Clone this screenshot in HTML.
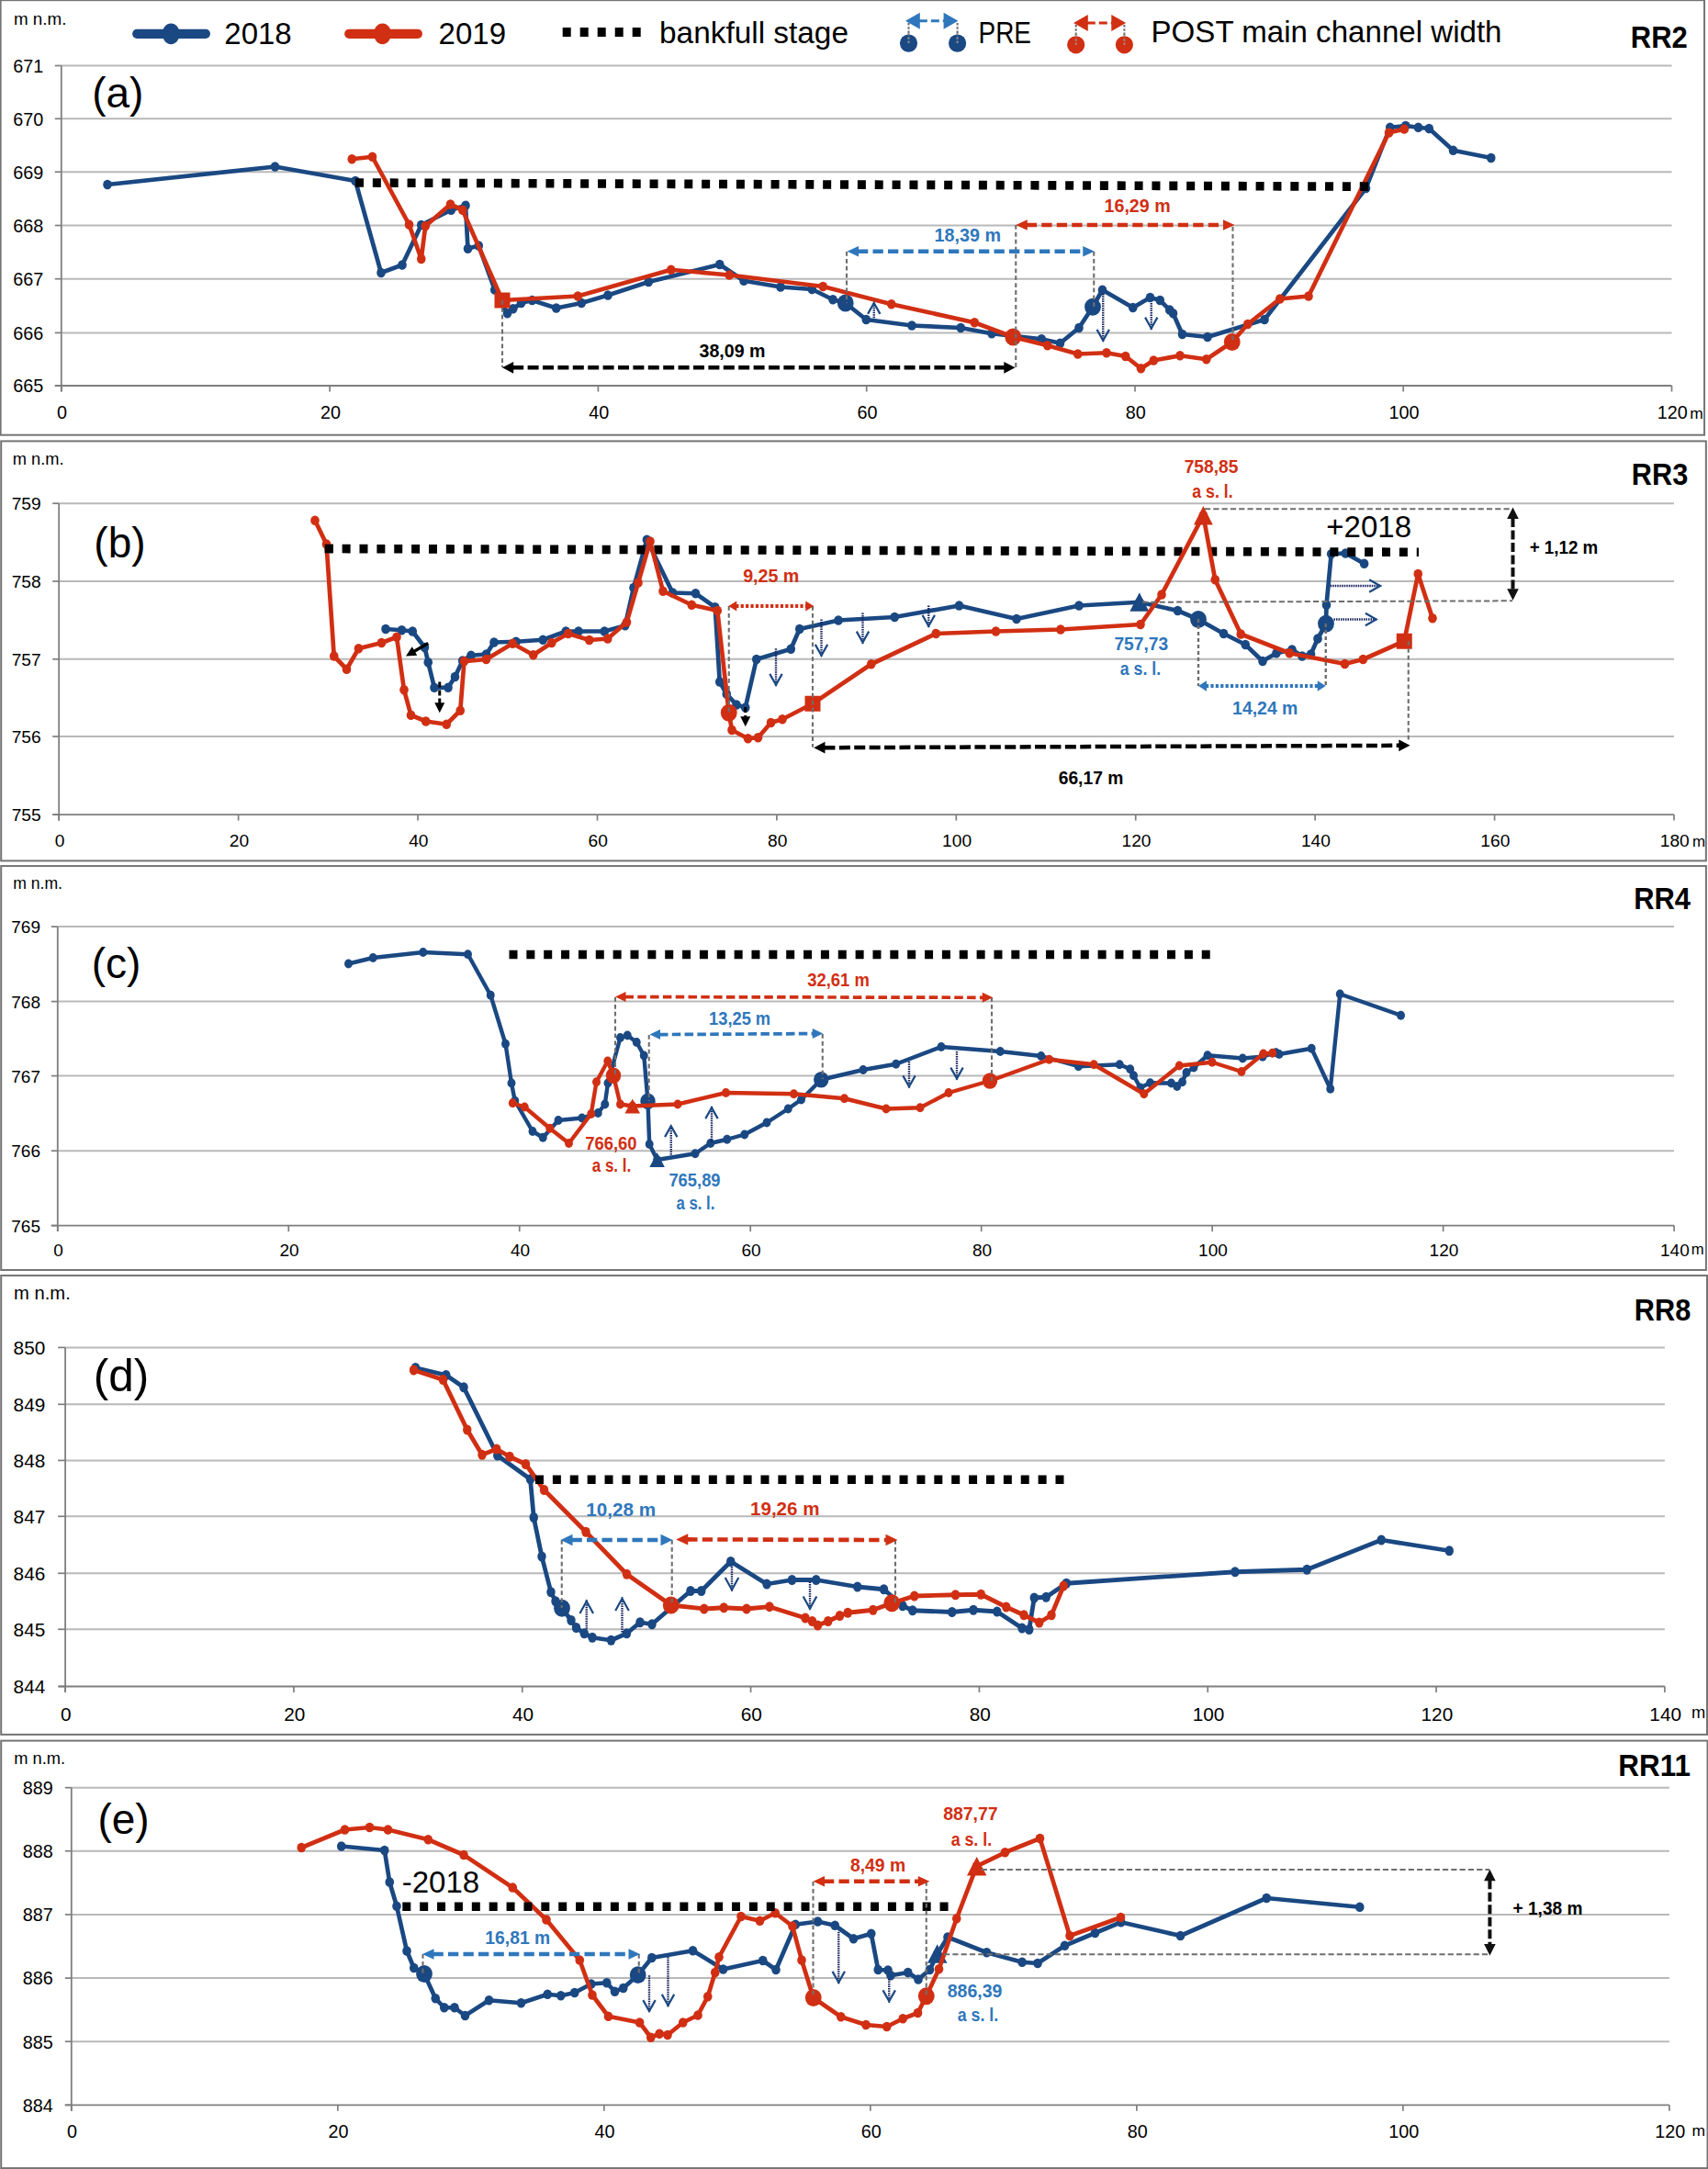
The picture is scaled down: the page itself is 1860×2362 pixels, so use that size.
<!DOCTYPE html>
<html><head><meta charset="utf-8"><title>Cross sections</title>
<style>html,body{margin:0;padding:0;background:#fff}svg{display:block}text{font-family:"Liberation Sans",sans-serif}</style></head><body>
<svg width="1860" height="2362" viewBox="0 0 1860 2362">
<rect width="1860" height="2362" fill="#fff"/>
<g id="panel-a">
<rect x="0.6" y="0.2" width="1855.45" height="473.5" fill="#fff" stroke="#747474" stroke-width="2"/>
<line x1="66.8" y1="71.5" x2="1820.5" y2="71.5" stroke="#b9b9b9" stroke-width="2"/>
<line x1="66.8" y1="129.3" x2="1820.5" y2="129.3" stroke="#b9b9b9" stroke-width="2"/>
<line x1="66.8" y1="187.2" x2="1820.5" y2="187.2" stroke="#b9b9b9" stroke-width="2"/>
<line x1="66.8" y1="245.5" x2="1820.5" y2="245.5" stroke="#b9b9b9" stroke-width="2"/>
<line x1="66.8" y1="303.7" x2="1820.5" y2="303.7" stroke="#b9b9b9" stroke-width="2"/>
<line x1="66.8" y1="362.4" x2="1820.5" y2="362.4" stroke="#b9b9b9" stroke-width="2"/>
<line x1="59.8" y1="71.5" x2="66.8" y2="71.5" stroke="#7e7e7e" stroke-width="1.7"/>
<text x="47.2" y="78.83" font-size="19.8" text-anchor="end" font-weight="normal" fill="#000">671</text>
<line x1="59.8" y1="129.3" x2="66.8" y2="129.3" stroke="#7e7e7e" stroke-width="1.7"/>
<text x="47.2" y="136.63" font-size="19.8" text-anchor="end" font-weight="normal" fill="#000">670</text>
<line x1="59.8" y1="187.2" x2="66.8" y2="187.2" stroke="#7e7e7e" stroke-width="1.7"/>
<text x="47.2" y="194.53" font-size="19.8" text-anchor="end" font-weight="normal" fill="#000">669</text>
<line x1="59.8" y1="245.5" x2="66.8" y2="245.5" stroke="#7e7e7e" stroke-width="1.7"/>
<text x="47.2" y="252.83" font-size="19.8" text-anchor="end" font-weight="normal" fill="#000">668</text>
<line x1="59.8" y1="303.7" x2="66.8" y2="303.7" stroke="#7e7e7e" stroke-width="1.7"/>
<text x="47.2" y="311.03" font-size="19.8" text-anchor="end" font-weight="normal" fill="#000">667</text>
<line x1="59.8" y1="362.4" x2="66.8" y2="362.4" stroke="#7e7e7e" stroke-width="1.7"/>
<text x="47.2" y="369.73" font-size="19.8" text-anchor="end" font-weight="normal" fill="#000">666</text>
<line x1="59.8" y1="420" x2="66.8" y2="420" stroke="#7e7e7e" stroke-width="1.7"/>
<text x="47.2" y="427.33" font-size="19.8" text-anchor="end" font-weight="normal" fill="#000">665</text>
<line x1="66.8" y1="71.5" x2="66.8" y2="426.5" stroke="#7e7e7e" stroke-width="1.8"/>
<line x1="59.8" y1="420" x2="1820.5" y2="420" stroke="#7e7e7e" stroke-width="1.8"/>
<line x1="66.8" y1="420" x2="66.8" y2="426.5" stroke="#7e7e7e" stroke-width="1.7"/>
<text x="67.6" y="456.33" font-size="19.8" text-anchor="middle" font-weight="normal" fill="#000">0</text>
<line x1="359.1" y1="420" x2="359.1" y2="426.5" stroke="#7e7e7e" stroke-width="1.7"/>
<text x="359.9" y="456.33" font-size="19.8" text-anchor="middle" font-weight="normal" fill="#000">20</text>
<line x1="651.4" y1="420" x2="651.4" y2="426.5" stroke="#7e7e7e" stroke-width="1.7"/>
<text x="652.2" y="456.33" font-size="19.8" text-anchor="middle" font-weight="normal" fill="#000">40</text>
<line x1="943.7" y1="420" x2="943.7" y2="426.5" stroke="#7e7e7e" stroke-width="1.7"/>
<text x="944.5" y="456.33" font-size="19.8" text-anchor="middle" font-weight="normal" fill="#000">60</text>
<line x1="1236" y1="420" x2="1236" y2="426.5" stroke="#7e7e7e" stroke-width="1.7"/>
<text x="1236.8" y="456.33" font-size="19.8" text-anchor="middle" font-weight="normal" fill="#000">80</text>
<line x1="1528.2" y1="420" x2="1528.2" y2="426.5" stroke="#7e7e7e" stroke-width="1.7"/>
<text x="1529" y="456.33" font-size="19.8" text-anchor="middle" font-weight="normal" fill="#000">100</text>
<line x1="1820.5" y1="420" x2="1820.5" y2="426.5" stroke="#7e7e7e" stroke-width="1.7"/>
<text x="1821.3" y="456.33" font-size="19.8" text-anchor="middle" font-weight="normal" fill="#000">120</text>
<text x="15" y="26.7" font-size="18.8" text-anchor="start" font-weight="normal" fill="#000">m n.m.</text>
<text x="1840.2" y="455.5" font-size="17.42" text-anchor="start" font-weight="normal" fill="#000">m</text>
<text x="1775.8" y="51.7" font-size="32.5" text-anchor="start" font-weight="bold" fill="#000" textLength="62" lengthAdjust="spacingAndGlyphs">RR2</text>
<text x="100.15" y="116.5" font-size="46" text-anchor="start" font-weight="normal" fill="#000">(a)</text>
<polyline fill="none" stroke="#1a4882" stroke-width="4.7" stroke-linejoin="round" stroke-linecap="round" points="117,201 299.5,181.5 387,197 415,297 438,288.5 458.75,245 491.25,228.75 507,223.75 509.5,270.75 521.25,267.5 538.75,315.5 552.5,341.25 558.75,336.25 567.5,330 579.5,327 605.75,335.5 633.25,330 662,321.5 706.25,307 783.75,288 810,305.75 850,312.5 884.25,315 907,326.25 920.75,330 943.25,348 993,354.5 1046.25,357 1080,363.25 1134.25,369.25 1154.5,373.75 1175,357 1190,334.25 1200.5,315.7 1233.75,335 1252.5,324 1263.25,327 1273.75,337.5 1277.5,341.25 1287.5,364 1315,367 1377,348 1487.5,205 1513.75,138.75 1530.75,137 1544.5,138.75 1556.25,140 1582.5,163.75 1623.75,172"/>
<ellipse cx="117" cy="201" rx="4.8" ry="5.3" fill="#1a4882"/>
<ellipse cx="299.5" cy="181.5" rx="4.8" ry="5.3" fill="#1a4882"/>
<ellipse cx="387" cy="197" rx="4.8" ry="5.3" fill="#1a4882"/>
<ellipse cx="415" cy="297" rx="4.8" ry="5.3" fill="#1a4882"/>
<ellipse cx="438" cy="288.5" rx="4.8" ry="5.3" fill="#1a4882"/>
<ellipse cx="458.75" cy="245" rx="4.8" ry="5.3" fill="#1a4882"/>
<ellipse cx="491.25" cy="228.75" rx="4.8" ry="5.3" fill="#1a4882"/>
<ellipse cx="507" cy="223.75" rx="4.8" ry="5.3" fill="#1a4882"/>
<ellipse cx="509.5" cy="270.75" rx="4.8" ry="5.3" fill="#1a4882"/>
<ellipse cx="521.25" cy="267.5" rx="4.8" ry="5.3" fill="#1a4882"/>
<ellipse cx="538.75" cy="315.5" rx="4.8" ry="5.3" fill="#1a4882"/>
<ellipse cx="552.5" cy="341.25" rx="4.8" ry="5.3" fill="#1a4882"/>
<ellipse cx="558.75" cy="336.25" rx="4.8" ry="5.3" fill="#1a4882"/>
<ellipse cx="567.5" cy="330" rx="4.8" ry="5.3" fill="#1a4882"/>
<ellipse cx="579.5" cy="327" rx="4.8" ry="5.3" fill="#1a4882"/>
<ellipse cx="605.75" cy="335.5" rx="4.8" ry="5.3" fill="#1a4882"/>
<ellipse cx="633.25" cy="330" rx="4.8" ry="5.3" fill="#1a4882"/>
<ellipse cx="662" cy="321.5" rx="4.8" ry="5.3" fill="#1a4882"/>
<ellipse cx="706.25" cy="307" rx="4.8" ry="5.3" fill="#1a4882"/>
<ellipse cx="783.75" cy="288" rx="4.8" ry="5.3" fill="#1a4882"/>
<ellipse cx="810" cy="305.75" rx="4.8" ry="5.3" fill="#1a4882"/>
<ellipse cx="850" cy="312.5" rx="4.8" ry="5.3" fill="#1a4882"/>
<ellipse cx="884.25" cy="315" rx="4.8" ry="5.3" fill="#1a4882"/>
<ellipse cx="907" cy="326.25" rx="4.8" ry="5.3" fill="#1a4882"/>
<ellipse cx="920.75" cy="330" rx="4.8" ry="5.3" fill="#1a4882"/>
<ellipse cx="943.25" cy="348" rx="4.8" ry="5.3" fill="#1a4882"/>
<ellipse cx="993" cy="354.5" rx="4.8" ry="5.3" fill="#1a4882"/>
<ellipse cx="1046.25" cy="357" rx="4.8" ry="5.3" fill="#1a4882"/>
<ellipse cx="1080" cy="363.25" rx="4.8" ry="5.3" fill="#1a4882"/>
<ellipse cx="1134.25" cy="369.25" rx="4.8" ry="5.3" fill="#1a4882"/>
<ellipse cx="1154.5" cy="373.75" rx="4.8" ry="5.3" fill="#1a4882"/>
<ellipse cx="1175" cy="357" rx="4.8" ry="5.3" fill="#1a4882"/>
<ellipse cx="1190" cy="334.25" rx="4.8" ry="5.3" fill="#1a4882"/>
<ellipse cx="1200.5" cy="315.7" rx="4.8" ry="5.3" fill="#1a4882"/>
<ellipse cx="1233.75" cy="335" rx="4.8" ry="5.3" fill="#1a4882"/>
<ellipse cx="1252.5" cy="324" rx="4.8" ry="5.3" fill="#1a4882"/>
<ellipse cx="1263.25" cy="327" rx="4.8" ry="5.3" fill="#1a4882"/>
<ellipse cx="1273.75" cy="337.5" rx="4.8" ry="5.3" fill="#1a4882"/>
<ellipse cx="1277.5" cy="341.25" rx="4.8" ry="5.3" fill="#1a4882"/>
<ellipse cx="1287.5" cy="364" rx="4.8" ry="5.3" fill="#1a4882"/>
<ellipse cx="1315" cy="367" rx="4.8" ry="5.3" fill="#1a4882"/>
<ellipse cx="1377" cy="348" rx="4.8" ry="5.3" fill="#1a4882"/>
<ellipse cx="1487.5" cy="205" rx="4.8" ry="5.3" fill="#1a4882"/>
<ellipse cx="1513.75" cy="138.75" rx="4.8" ry="5.3" fill="#1a4882"/>
<ellipse cx="1530.75" cy="137" rx="4.8" ry="5.3" fill="#1a4882"/>
<ellipse cx="1544.5" cy="138.75" rx="4.8" ry="5.3" fill="#1a4882"/>
<ellipse cx="1556.25" cy="140" rx="4.8" ry="5.3" fill="#1a4882"/>
<ellipse cx="1582.5" cy="163.75" rx="4.8" ry="5.3" fill="#1a4882"/>
<ellipse cx="1623.75" cy="172" rx="4.8" ry="5.3" fill="#1a4882"/>
<ellipse cx="920.75" cy="330" rx="8.9" ry="9.4" fill="#1a4882"/>
<ellipse cx="1190" cy="334.25" rx="8.9" ry="9.4" fill="#1a4882"/>
<line x1="387" y1="199" x2="1490.3" y2="203.2" stroke="#000" stroke-width="9.6" stroke-dasharray="9 9.858"/>
<polyline fill="none" stroke="#d12f13" stroke-width="4.7" stroke-linejoin="round" stroke-linecap="round" points="383.25,173.25 405.5,170.75 445.5,244.5 458.75,282 463.25,246.25 490.5,222.5 503.75,228.75 547,327 629.25,322.5 730.75,293.75 794.25,299.5 896.25,312 970.75,331.25 1061.25,351.25 1103.25,367 1140.75,376.25 1173.75,385.5 1205,384.25 1225.75,388 1242.5,401.25 1256.25,392.5 1285,387.25 1313.75,391.25 1341.75,372.5 1358.75,353 1393.75,325.5 1425,322.5 1512.5,144.5 1529.25,140.5"/>
<ellipse cx="383.25" cy="173.25" rx="4.8" ry="5.3" fill="#d12f13"/>
<ellipse cx="405.5" cy="170.75" rx="4.8" ry="5.3" fill="#d12f13"/>
<ellipse cx="445.5" cy="244.5" rx="4.8" ry="5.3" fill="#d12f13"/>
<ellipse cx="458.75" cy="282" rx="4.8" ry="5.3" fill="#d12f13"/>
<ellipse cx="463.25" cy="246.25" rx="4.8" ry="5.3" fill="#d12f13"/>
<ellipse cx="490.5" cy="222.5" rx="4.8" ry="5.3" fill="#d12f13"/>
<ellipse cx="503.75" cy="228.75" rx="4.8" ry="5.3" fill="#d12f13"/>
<ellipse cx="547" cy="327" rx="4.8" ry="5.3" fill="#d12f13"/>
<ellipse cx="629.25" cy="322.5" rx="4.8" ry="5.3" fill="#d12f13"/>
<ellipse cx="730.75" cy="293.75" rx="4.8" ry="5.3" fill="#d12f13"/>
<ellipse cx="794.25" cy="299.5" rx="4.8" ry="5.3" fill="#d12f13"/>
<ellipse cx="896.25" cy="312" rx="4.8" ry="5.3" fill="#d12f13"/>
<ellipse cx="970.75" cy="331.25" rx="4.8" ry="5.3" fill="#d12f13"/>
<ellipse cx="1061.25" cy="351.25" rx="4.8" ry="5.3" fill="#d12f13"/>
<ellipse cx="1103.25" cy="367" rx="4.8" ry="5.3" fill="#d12f13"/>
<ellipse cx="1140.75" cy="376.25" rx="4.8" ry="5.3" fill="#d12f13"/>
<ellipse cx="1173.75" cy="385.5" rx="4.8" ry="5.3" fill="#d12f13"/>
<ellipse cx="1205" cy="384.25" rx="4.8" ry="5.3" fill="#d12f13"/>
<ellipse cx="1225.75" cy="388" rx="4.8" ry="5.3" fill="#d12f13"/>
<ellipse cx="1242.5" cy="401.25" rx="4.8" ry="5.3" fill="#d12f13"/>
<ellipse cx="1256.25" cy="392.5" rx="4.8" ry="5.3" fill="#d12f13"/>
<ellipse cx="1285" cy="387.25" rx="4.8" ry="5.3" fill="#d12f13"/>
<ellipse cx="1313.75" cy="391.25" rx="4.8" ry="5.3" fill="#d12f13"/>
<ellipse cx="1341.75" cy="372.5" rx="4.8" ry="5.3" fill="#d12f13"/>
<ellipse cx="1358.75" cy="353" rx="4.8" ry="5.3" fill="#d12f13"/>
<ellipse cx="1393.75" cy="325.5" rx="4.8" ry="5.3" fill="#d12f13"/>
<ellipse cx="1425" cy="322.5" rx="4.8" ry="5.3" fill="#d12f13"/>
<ellipse cx="1512.5" cy="144.5" rx="4.8" ry="5.3" fill="#d12f13"/>
<ellipse cx="1529.25" cy="140.5" rx="4.8" ry="5.3" fill="#d12f13"/>
<ellipse cx="1103.25" cy="367" rx="8.9" ry="9.4" fill="#d12f13"/>
<ellipse cx="1341.75" cy="372.5" rx="8.9" ry="9.4" fill="#d12f13"/>
<rect x="538.5" y="318.5" width="17" height="17" fill="#d12f13"/>
<rect x="1481.2" y="198.35" width="9.1" height="9.6" fill="#000"/>
<line x1="149.2" y1="36.8" x2="223.9" y2="36.8" stroke="#1a4882" stroke-width="10.2" stroke-linecap="round"/><ellipse cx="186.2" cy="36.8" rx="9.6" ry="11.4" fill="#1a4882"/>
<text x="244.3" y="47.7" font-size="33" text-anchor="start" font-weight="normal" fill="#000">2018</text>
<line x1="380.2" y1="36.8" x2="454.9" y2="36.8" stroke="#d12f13" stroke-width="10.2" stroke-linecap="round"/><ellipse cx="416.5" cy="36.8" rx="9.6" ry="11.4" fill="#d12f13"/>
<text x="477.6" y="47.7" font-size="33" text-anchor="start" font-weight="normal" fill="#000">2019</text>
<line x1="612.7" y1="35" x2="698" y2="35" stroke="#000" stroke-width="10" stroke-dasharray="9 10"/>
<text x="718" y="46.7" font-size="32.9" text-anchor="start" font-weight="normal" fill="#000" textLength="206" lengthAdjust="spacingAndGlyphs">bankfull stage</text>
<line x1="989.5" y1="25" x2="989.5" y2="38" stroke="#6e6e6e" stroke-width="2.1" stroke-dasharray="2.6 1.6"/>
<line x1="1042.6" y1="25" x2="1042.6" y2="38" stroke="#6e6e6e" stroke-width="2.1" stroke-dasharray="2.6 1.6"/>
<line x1="1000.8" y1="22.8" x2="1028.6" y2="22.8" stroke="#2f77bc" stroke-width="3" stroke-dasharray="9 4"/>
<path d="M986,22.8 l15.8,-9 v18Z M1043.4,22.8 l-15.8,-9 v18Z" fill="#2f77bc"/>
<ellipse cx="989.5" cy="47.1" rx="9.6" ry="9.6" fill="#1a4882"/>
<ellipse cx="1042.6" cy="47.1" rx="9.6" ry="9.6" fill="#1a4882"/>
<path d="M989.5,36v12M1042.6,36v12" stroke="#8d8d8d" stroke-width="2" stroke-dasharray="2.6 1.6" fill="none"/>
<text x="1065.5" y="47" font-size="32.9" text-anchor="start" font-weight="normal" fill="#000" textLength="57.5" lengthAdjust="spacingAndGlyphs">PRE</text>
<line x1="1171.7" y1="27" x2="1171.7" y2="40" stroke="#6e6e6e" stroke-width="2.1" stroke-dasharray="2.6 1.6"/>
<line x1="1224.4" y1="27" x2="1224.4" y2="40" stroke="#6e6e6e" stroke-width="2.1" stroke-dasharray="2.6 1.6"/>
<line x1="1183.8" y1="25.1" x2="1211.3" y2="25.1" stroke="#d12f13" stroke-width="3" stroke-dasharray="9 4"/>
<path d="M1169,25.1 l15.8,-9 v18Z M1226.1,25.1 l-15.8,-9 v18Z" fill="#d12f13"/>
<ellipse cx="1171.7" cy="48.8" rx="9.6" ry="9.6" fill="#d12f13"/>
<ellipse cx="1224.4" cy="48.8" rx="9.6" ry="9.6" fill="#d12f13"/>
<path d="M1171.7,38v12M1224.4,38v12" stroke="#9a8a86" stroke-width="2" stroke-dasharray="2.6 1.6" fill="none"/>
<text x="1253.5" y="46.3" font-size="32.9" text-anchor="start" font-weight="normal" fill="#000" textLength="382" lengthAdjust="spacingAndGlyphs">POST main channel width</text>
<line x1="547" y1="327" x2="547" y2="400" stroke="#6e6e6e" stroke-width="2.1" stroke-dasharray="4.8 3.1"/>
<line x1="922" y1="274" x2="922" y2="330" stroke="#6e6e6e" stroke-width="2.1" stroke-dasharray="4.8 3.1"/>
<line x1="1106.25" y1="245" x2="1106.25" y2="400" stroke="#6e6e6e" stroke-width="2.1" stroke-dasharray="4.8 3.1"/>
<line x1="1191.25" y1="274" x2="1191.25" y2="334" stroke="#6e6e6e" stroke-width="2.1" stroke-dasharray="4.8 3.1"/>
<line x1="1342.5" y1="247" x2="1342.5" y2="372" stroke="#6e6e6e" stroke-width="2.1" stroke-dasharray="4.8 3.1"/>
<line x1="558.2" y1="400.3" x2="1094.3" y2="400.3" stroke="#000" stroke-width="4.5" stroke-dasharray="12 4.4"/>
<path d="M547,400.3 l12.2,-6.4 v12.8Z M1105.5,400.3 l-12.2,-6.4 v12.8Z" fill="#000"/>
<text x="797.5" y="389.05" font-size="20" text-anchor="middle" font-weight="bold" fill="#000" textLength="71.85" lengthAdjust="spacingAndGlyphs">38,09 m</text>
<line x1="934" y1="273.75" x2="1180.25" y2="273.75" stroke="#2f77bc" stroke-width="4.4" stroke-dasharray="11.3 5.2"/>
<path d="M922.5,273.75 l12.5,-5.8 v11.6Z M1191.75,273.75 l-12.5,-5.8 v11.6Z" fill="#2f77bc"/>
<text x="1053.75" y="263.3" font-size="20" text-anchor="middle" font-weight="bold" fill="#2f77bc" textLength="72.36" lengthAdjust="spacingAndGlyphs">18,39 m</text>
<line x1="1117.75" y1="245" x2="1333" y2="245" stroke="#d12f13" stroke-width="4.4" stroke-dasharray="11.3 5.2"/>
<path d="M1106.25,245 l12.5,-5.8 v11.6Z M1344.5,245 l-12.5,-5.8 v11.6Z" fill="#d12f13"/>
<text x="1238.6" y="231.05" font-size="20" text-anchor="middle" font-weight="bold" fill="#d12f13" textLength="72.16" lengthAdjust="spacingAndGlyphs">16,29 m</text>
<line x1="951.75" y1="346.25" x2="951.75" y2="328.75" stroke="#16235e" stroke-width="2.4" stroke-dasharray="1.5 1.0"/>
<polyline fill="none" stroke="#1a4882" stroke-width="2.2" stroke-linejoin="miter" points="958.45,341.85 951.75,330.05 945.05,341.85"/>
<line x1="1201.25" y1="320" x2="1201.25" y2="372" stroke="#16235e" stroke-width="2.4" stroke-dasharray="1.5 1.0"/>
<polyline fill="none" stroke="#1a4882" stroke-width="2.2" stroke-linejoin="miter" points="1194.55,358.9 1201.25,370.7 1207.95,358.9"/>
<line x1="1253.75" y1="330" x2="1253.75" y2="358.75" stroke="#16235e" stroke-width="2.4" stroke-dasharray="1.5 1.0"/>
<polyline fill="none" stroke="#1a4882" stroke-width="2.2" stroke-linejoin="miter" points="1247.05,345.65 1253.75,357.45 1260.45,345.65"/>
</g>
<g id="panel-b">
<rect x="1.2" y="480.4" width="1856.65" height="457" fill="#fff" stroke="#747474" stroke-width="2"/>
<line x1="64.2" y1="548.2" x2="1823" y2="548.2" stroke="#b9b9b9" stroke-width="2"/>
<line x1="64.2" y1="633" x2="1823" y2="633" stroke="#b9b9b9" stroke-width="2"/>
<line x1="64.2" y1="717.8" x2="1823" y2="717.8" stroke="#b9b9b9" stroke-width="2"/>
<line x1="64.2" y1="802" x2="1823" y2="802" stroke="#b9b9b9" stroke-width="2"/>
<line x1="57.2" y1="548.2" x2="64.2" y2="548.2" stroke="#7e7e7e" stroke-width="1.7"/>
<text x="44.7" y="555.3" font-size="19.2" text-anchor="end" font-weight="normal" fill="#000">759</text>
<line x1="57.2" y1="633" x2="64.2" y2="633" stroke="#7e7e7e" stroke-width="1.7"/>
<text x="44.7" y="640.1" font-size="19.2" text-anchor="end" font-weight="normal" fill="#000">758</text>
<line x1="57.2" y1="717.8" x2="64.2" y2="717.8" stroke="#7e7e7e" stroke-width="1.7"/>
<text x="44.7" y="724.9" font-size="19.2" text-anchor="end" font-weight="normal" fill="#000">757</text>
<line x1="57.2" y1="802" x2="64.2" y2="802" stroke="#7e7e7e" stroke-width="1.7"/>
<text x="44.7" y="809.1" font-size="19.2" text-anchor="end" font-weight="normal" fill="#000">756</text>
<line x1="57.2" y1="887.1" x2="64.2" y2="887.1" stroke="#7e7e7e" stroke-width="1.7"/>
<text x="44.7" y="894.2" font-size="19.2" text-anchor="end" font-weight="normal" fill="#000">755</text>
<line x1="64.2" y1="548.2" x2="64.2" y2="893.6" stroke="#7e7e7e" stroke-width="1.8"/>
<line x1="57.2" y1="887.1" x2="1823" y2="887.1" stroke="#7e7e7e" stroke-width="1.8"/>
<line x1="64.2" y1="887.1" x2="64.2" y2="893.6" stroke="#7e7e7e" stroke-width="1.7"/>
<text x="65" y="921.82" font-size="19.2" text-anchor="middle" font-weight="normal" fill="#000">0</text>
<line x1="259.62" y1="887.1" x2="259.62" y2="893.6" stroke="#7e7e7e" stroke-width="1.7"/>
<text x="260.42" y="921.82" font-size="19.2" text-anchor="middle" font-weight="normal" fill="#000">20</text>
<line x1="455.04" y1="887.1" x2="455.04" y2="893.6" stroke="#7e7e7e" stroke-width="1.7"/>
<text x="455.84" y="921.82" font-size="19.2" text-anchor="middle" font-weight="normal" fill="#000">40</text>
<line x1="650.47" y1="887.1" x2="650.47" y2="893.6" stroke="#7e7e7e" stroke-width="1.7"/>
<text x="651.27" y="921.82" font-size="19.2" text-anchor="middle" font-weight="normal" fill="#000">60</text>
<line x1="845.89" y1="887.1" x2="845.89" y2="893.6" stroke="#7e7e7e" stroke-width="1.7"/>
<text x="846.69" y="921.82" font-size="19.2" text-anchor="middle" font-weight="normal" fill="#000">80</text>
<line x1="1041.31" y1="887.1" x2="1041.31" y2="893.6" stroke="#7e7e7e" stroke-width="1.7"/>
<text x="1042.11" y="921.82" font-size="19.2" text-anchor="middle" font-weight="normal" fill="#000">100</text>
<line x1="1236.73" y1="887.1" x2="1236.73" y2="893.6" stroke="#7e7e7e" stroke-width="1.7"/>
<text x="1237.53" y="921.82" font-size="19.2" text-anchor="middle" font-weight="normal" fill="#000">120</text>
<line x1="1432.15" y1="887.1" x2="1432.15" y2="893.6" stroke="#7e7e7e" stroke-width="1.7"/>
<text x="1432.95" y="921.82" font-size="19.2" text-anchor="middle" font-weight="normal" fill="#000">140</text>
<line x1="1627.58" y1="887.1" x2="1627.58" y2="893.6" stroke="#7e7e7e" stroke-width="1.7"/>
<text x="1628.38" y="921.82" font-size="19.2" text-anchor="middle" font-weight="normal" fill="#000">160</text>
<line x1="1823" y1="887.1" x2="1823" y2="893.6" stroke="#7e7e7e" stroke-width="1.7"/>
<text x="1823.8" y="921.82" font-size="19.2" text-anchor="middle" font-weight="normal" fill="#000">180</text>
<text x="13.8" y="505.5" font-size="18.3" text-anchor="start" font-weight="normal" fill="#000">m n.m.</text>
<text x="1842.9" y="922.2" font-size="16.9" text-anchor="start" font-weight="normal" fill="#000">m</text>
<text x="1776.8" y="527.8" font-size="32.5" text-anchor="start" font-weight="bold" fill="#000" textLength="61.5" lengthAdjust="spacingAndGlyphs">RR3</text>
<text x="102.35" y="607" font-size="46" text-anchor="start" font-weight="normal" fill="#000">(b)</text>
<polyline fill="none" stroke="#1a4882" stroke-width="4.7" stroke-linejoin="round" stroke-linecap="round" points="420,685 437.5,686.25 449.25,687.5 462.5,705 466.25,721.25 473,748.75 488,748.75 495.5,737 503.75,719.5 513,713.75 529.5,712.5 538,699.5 562,698.75 591.25,696.75 616.25,687.5 630,687.5 658.25,687.5 680.75,681.25 690,640 704.4,587.7 732.5,645.5 757.5,646.25 778.75,661.25 783.75,742.5 791.25,755.75 802,767.5 811.75,770.5 823.75,718 861.25,706.75 870.75,685 913,675.5 974.25,672 1044.5,659.5 1107,674 1175,659.5 1240.75,655.75 1282.5,665 1305,674.5 1332.5,690 1356.25,702 1375,720 1390,711.25 1407,707.5 1418,714.5 1427.5,712.5 1435,695.5 1444,679.25 1444.5,658.75 1449.7,603.25 1465.3,602.5 1485.6,613.75"/>
<ellipse cx="420" cy="685" rx="4.8" ry="5.3" fill="#1a4882"/>
<ellipse cx="437.5" cy="686.25" rx="4.8" ry="5.3" fill="#1a4882"/>
<ellipse cx="449.25" cy="687.5" rx="4.8" ry="5.3" fill="#1a4882"/>
<ellipse cx="462.5" cy="705" rx="4.8" ry="5.3" fill="#1a4882"/>
<ellipse cx="466.25" cy="721.25" rx="4.8" ry="5.3" fill="#1a4882"/>
<ellipse cx="473" cy="748.75" rx="4.8" ry="5.3" fill="#1a4882"/>
<ellipse cx="488" cy="748.75" rx="4.8" ry="5.3" fill="#1a4882"/>
<ellipse cx="495.5" cy="737" rx="4.8" ry="5.3" fill="#1a4882"/>
<ellipse cx="503.75" cy="719.5" rx="4.8" ry="5.3" fill="#1a4882"/>
<ellipse cx="513" cy="713.75" rx="4.8" ry="5.3" fill="#1a4882"/>
<ellipse cx="529.5" cy="712.5" rx="4.8" ry="5.3" fill="#1a4882"/>
<ellipse cx="538" cy="699.5" rx="4.8" ry="5.3" fill="#1a4882"/>
<ellipse cx="562" cy="698.75" rx="4.8" ry="5.3" fill="#1a4882"/>
<ellipse cx="591.25" cy="696.75" rx="4.8" ry="5.3" fill="#1a4882"/>
<ellipse cx="616.25" cy="687.5" rx="4.8" ry="5.3" fill="#1a4882"/>
<ellipse cx="630" cy="687.5" rx="4.8" ry="5.3" fill="#1a4882"/>
<ellipse cx="658.25" cy="687.5" rx="4.8" ry="5.3" fill="#1a4882"/>
<ellipse cx="680.75" cy="681.25" rx="4.8" ry="5.3" fill="#1a4882"/>
<ellipse cx="690" cy="640" rx="4.8" ry="5.3" fill="#1a4882"/>
<ellipse cx="704.4" cy="587.7" rx="4.8" ry="5.3" fill="#1a4882"/>
<ellipse cx="732.5" cy="645.5" rx="4.8" ry="5.3" fill="#1a4882"/>
<ellipse cx="757.5" cy="646.25" rx="4.8" ry="5.3" fill="#1a4882"/>
<ellipse cx="778.75" cy="661.25" rx="4.8" ry="5.3" fill="#1a4882"/>
<ellipse cx="783.75" cy="742.5" rx="4.8" ry="5.3" fill="#1a4882"/>
<ellipse cx="791.25" cy="755.75" rx="4.8" ry="5.3" fill="#1a4882"/>
<ellipse cx="802" cy="767.5" rx="4.8" ry="5.3" fill="#1a4882"/>
<ellipse cx="811.75" cy="770.5" rx="4.8" ry="5.3" fill="#1a4882"/>
<ellipse cx="823.75" cy="718" rx="4.8" ry="5.3" fill="#1a4882"/>
<ellipse cx="861.25" cy="706.75" rx="4.8" ry="5.3" fill="#1a4882"/>
<ellipse cx="870.75" cy="685" rx="4.8" ry="5.3" fill="#1a4882"/>
<ellipse cx="913" cy="675.5" rx="4.8" ry="5.3" fill="#1a4882"/>
<ellipse cx="974.25" cy="672" rx="4.8" ry="5.3" fill="#1a4882"/>
<ellipse cx="1044.5" cy="659.5" rx="4.8" ry="5.3" fill="#1a4882"/>
<ellipse cx="1107" cy="674" rx="4.8" ry="5.3" fill="#1a4882"/>
<ellipse cx="1175" cy="659.5" rx="4.8" ry="5.3" fill="#1a4882"/>
<ellipse cx="1240.75" cy="655.75" rx="4.8" ry="5.3" fill="#1a4882"/>
<ellipse cx="1282.5" cy="665" rx="4.8" ry="5.3" fill="#1a4882"/>
<ellipse cx="1305" cy="674.5" rx="4.8" ry="5.3" fill="#1a4882"/>
<ellipse cx="1332.5" cy="690" rx="4.8" ry="5.3" fill="#1a4882"/>
<ellipse cx="1356.25" cy="702" rx="4.8" ry="5.3" fill="#1a4882"/>
<ellipse cx="1375" cy="720" rx="4.8" ry="5.3" fill="#1a4882"/>
<ellipse cx="1390" cy="711.25" rx="4.8" ry="5.3" fill="#1a4882"/>
<ellipse cx="1407" cy="707.5" rx="4.8" ry="5.3" fill="#1a4882"/>
<ellipse cx="1418" cy="714.5" rx="4.8" ry="5.3" fill="#1a4882"/>
<ellipse cx="1427.5" cy="712.5" rx="4.8" ry="5.3" fill="#1a4882"/>
<ellipse cx="1435" cy="695.5" rx="4.8" ry="5.3" fill="#1a4882"/>
<ellipse cx="1444" cy="679.25" rx="4.8" ry="5.3" fill="#1a4882"/>
<ellipse cx="1444.5" cy="658.75" rx="4.8" ry="5.3" fill="#1a4882"/>
<ellipse cx="1449.7" cy="603.25" rx="4.8" ry="5.3" fill="#1a4882"/>
<ellipse cx="1465.3" cy="602.5" rx="4.8" ry="5.3" fill="#1a4882"/>
<ellipse cx="1485.6" cy="613.75" rx="4.8" ry="5.3" fill="#1a4882"/>
<ellipse cx="1305" cy="674.5" rx="8.9" ry="9.4" fill="#1a4882"/>
<ellipse cx="1444" cy="679.25" rx="8.9" ry="9.4" fill="#1a4882"/>
<path d="M1240.8,645.3 L1251.2,665.7 L1230.4,665.7Z" fill="#1a4882"/>
<line x1="353.75" y1="597.5" x2="1545" y2="601.3" stroke="#000" stroke-width="9.6" stroke-dasharray="9 9.873"/>
<polyline fill="none" stroke="#d12f13" stroke-width="4.7" stroke-linejoin="round" stroke-linecap="round" points="343,566.75 355.5,592.5 363.75,714.5 377.5,728.75 390.5,706.25 415.5,700 432,693.75 440,751.25 447.5,778.75 463.75,785.5 486.25,788.75 501.25,773.75 505.5,720 529.5,718 558.25,700.75 580.75,713.25 600.75,700 618.75,690 641.75,697 661.75,695.5 682.5,677.5 695,634.5 708,589.5 722,643.75 753.25,658.75 781.25,665 793.75,776.25 797,795 814.5,804.25 825.5,803.25 839.5,787 852,783.25 885,766.25 948.75,723.25 1019.25,690 1084.5,687.5 1155,685.5 1242,680 1265,647.5 1310.4,561.3 1323.25,631.25 1351.25,690.5 1404.25,711.25 1464.5,723 1484.4,718 1529.25,698.25 1544.25,625 1560,673.25"/>
<ellipse cx="343" cy="566.75" rx="4.8" ry="5.3" fill="#d12f13"/>
<ellipse cx="355.5" cy="592.5" rx="4.8" ry="5.3" fill="#d12f13"/>
<ellipse cx="363.75" cy="714.5" rx="4.8" ry="5.3" fill="#d12f13"/>
<ellipse cx="377.5" cy="728.75" rx="4.8" ry="5.3" fill="#d12f13"/>
<ellipse cx="390.5" cy="706.25" rx="4.8" ry="5.3" fill="#d12f13"/>
<ellipse cx="415.5" cy="700" rx="4.8" ry="5.3" fill="#d12f13"/>
<ellipse cx="432" cy="693.75" rx="4.8" ry="5.3" fill="#d12f13"/>
<ellipse cx="440" cy="751.25" rx="4.8" ry="5.3" fill="#d12f13"/>
<ellipse cx="447.5" cy="778.75" rx="4.8" ry="5.3" fill="#d12f13"/>
<ellipse cx="463.75" cy="785.5" rx="4.8" ry="5.3" fill="#d12f13"/>
<ellipse cx="486.25" cy="788.75" rx="4.8" ry="5.3" fill="#d12f13"/>
<ellipse cx="501.25" cy="773.75" rx="4.8" ry="5.3" fill="#d12f13"/>
<ellipse cx="505.5" cy="720" rx="4.8" ry="5.3" fill="#d12f13"/>
<ellipse cx="529.5" cy="718" rx="4.8" ry="5.3" fill="#d12f13"/>
<ellipse cx="558.25" cy="700.75" rx="4.8" ry="5.3" fill="#d12f13"/>
<ellipse cx="580.75" cy="713.25" rx="4.8" ry="5.3" fill="#d12f13"/>
<ellipse cx="600.75" cy="700" rx="4.8" ry="5.3" fill="#d12f13"/>
<ellipse cx="618.75" cy="690" rx="4.8" ry="5.3" fill="#d12f13"/>
<ellipse cx="641.75" cy="697" rx="4.8" ry="5.3" fill="#d12f13"/>
<ellipse cx="661.75" cy="695.5" rx="4.8" ry="5.3" fill="#d12f13"/>
<ellipse cx="682.5" cy="677.5" rx="4.8" ry="5.3" fill="#d12f13"/>
<ellipse cx="695" cy="634.5" rx="4.8" ry="5.3" fill="#d12f13"/>
<ellipse cx="708" cy="589.5" rx="4.8" ry="5.3" fill="#d12f13"/>
<ellipse cx="722" cy="643.75" rx="4.8" ry="5.3" fill="#d12f13"/>
<ellipse cx="753.25" cy="658.75" rx="4.8" ry="5.3" fill="#d12f13"/>
<ellipse cx="781.25" cy="665" rx="4.8" ry="5.3" fill="#d12f13"/>
<ellipse cx="793.75" cy="776.25" rx="4.8" ry="5.3" fill="#d12f13"/>
<ellipse cx="797" cy="795" rx="4.8" ry="5.3" fill="#d12f13"/>
<ellipse cx="814.5" cy="804.25" rx="4.8" ry="5.3" fill="#d12f13"/>
<ellipse cx="825.5" cy="803.25" rx="4.8" ry="5.3" fill="#d12f13"/>
<ellipse cx="839.5" cy="787" rx="4.8" ry="5.3" fill="#d12f13"/>
<ellipse cx="852" cy="783.25" rx="4.8" ry="5.3" fill="#d12f13"/>
<ellipse cx="885" cy="766.25" rx="4.8" ry="5.3" fill="#d12f13"/>
<ellipse cx="948.75" cy="723.25" rx="4.8" ry="5.3" fill="#d12f13"/>
<ellipse cx="1019.25" cy="690" rx="4.8" ry="5.3" fill="#d12f13"/>
<ellipse cx="1084.5" cy="687.5" rx="4.8" ry="5.3" fill="#d12f13"/>
<ellipse cx="1155" cy="685.5" rx="4.8" ry="5.3" fill="#d12f13"/>
<ellipse cx="1242" cy="680" rx="4.8" ry="5.3" fill="#d12f13"/>
<ellipse cx="1265" cy="647.5" rx="4.8" ry="5.3" fill="#d12f13"/>
<ellipse cx="1310.4" cy="561.3" rx="4.8" ry="5.3" fill="#d12f13"/>
<ellipse cx="1323.25" cy="631.25" rx="4.8" ry="5.3" fill="#d12f13"/>
<ellipse cx="1351.25" cy="690.5" rx="4.8" ry="5.3" fill="#d12f13"/>
<ellipse cx="1404.25" cy="711.25" rx="4.8" ry="5.3" fill="#d12f13"/>
<ellipse cx="1464.5" cy="723" rx="4.8" ry="5.3" fill="#d12f13"/>
<ellipse cx="1484.4" cy="718" rx="4.8" ry="5.3" fill="#d12f13"/>
<ellipse cx="1529.25" cy="698.25" rx="4.8" ry="5.3" fill="#d12f13"/>
<ellipse cx="1544.25" cy="625" rx="4.8" ry="5.3" fill="#d12f13"/>
<ellipse cx="1560" cy="673.25" rx="4.8" ry="5.3" fill="#d12f13"/>
<ellipse cx="793.75" cy="776.25" rx="8.9" ry="9.4" fill="#d12f13"/>
<path d="M1310.4,551.1 L1320.8,571.5 L1300,571.5Z" fill="#d12f13"/>
<rect x="876.5" y="757.75" width="17" height="17" fill="#d12f13"/>
<rect x="1520.75" y="689.75" width="17" height="17" fill="#d12f13"/>
<rect x="353.75" y="592.7" width="9" height="9.6" fill="#000"/>
<line x1="793.75" y1="660" x2="793.75" y2="776" stroke="#6e6e6e" stroke-width="2.1" stroke-dasharray="4.8 3.1"/>
<line x1="885" y1="660" x2="885" y2="813.75" stroke="#6e6e6e" stroke-width="2.1" stroke-dasharray="4.8 3.1"/>
<line x1="1305" y1="674" x2="1305" y2="747" stroke="#6e6e6e" stroke-width="2.4" stroke-dasharray="4 3"/>
<line x1="1443.75" y1="679" x2="1443.75" y2="747" stroke="#6e6e6e" stroke-width="2.4" stroke-dasharray="4 3"/>
<line x1="1533.75" y1="698" x2="1533.75" y2="806" stroke="#6e6e6e" stroke-width="2.1" stroke-dasharray="4.8 3.1"/>
<line x1="1312" y1="554.2" x2="1646" y2="554.2" stroke="#6e6e6e" stroke-width="2.0" stroke-dasharray="6.2 3.1"/>
<line x1="1244" y1="655.75" x2="1647" y2="654.3" stroke="#6e6e6e" stroke-width="2.0" stroke-dasharray="6.2 3.1"/>
<line x1="801.25" y1="660" x2="878.25" y2="660" stroke="#d12f13" stroke-width="4" stroke-dasharray="3.2 2.2"/>
<path d="M793.25,660 l9,-5.5 v11.0Z M886.25,660 l-9,-5.5 v11.0Z" fill="#d12f13"/>
<text x="839.75" y="634.05" font-size="20" text-anchor="middle" font-weight="bold" fill="#d12f13" textLength="61.23" lengthAdjust="spacingAndGlyphs">9,25 m</text>
<line x1="1313" y1="747" x2="1435.75" y2="747" stroke="#2f77bc" stroke-width="4.2" stroke-dasharray="3.2 2.2"/>
<path d="M1305,747 l9,-5.8 v11.6Z M1443.75,747 l-9,-5.8 v11.6Z" fill="#2f77bc"/>
<text x="1377.75" y="777.8" font-size="20" text-anchor="middle" font-weight="bold" fill="#2f77bc" textLength="71.35" lengthAdjust="spacingAndGlyphs">14,24 m</text>
<line x1="897.45" y1="814.2" x2="1524.3" y2="811.8" stroke="#000" stroke-width="4.5" stroke-dasharray="12 4.4"/>
<path d="M886.25,814.2 l12.2,-6.4 v12.8Z M1535.5,811.8 l-12.2,-6.4 v12.8Z" fill="#000"/>
<text x="1188" y="854.05" font-size="20" text-anchor="middle" font-weight="bold" fill="#000" textLength="70.59" lengthAdjust="spacingAndGlyphs">66,17 m</text>
<line x1="1647.5" y1="564" x2="1647.5" y2="642.25" stroke="#111" stroke-width="4" stroke-dasharray="10 3.5"/>
<path d="M1647.5,552.5 l-6.3,12.5 h12.6Z M1647.5,653.75 l-6.3,-12.5 h12.6Z" fill="#111"/>
<text x="1703" y="602.8" font-size="20" text-anchor="middle" font-weight="bold" fill="#000" textLength="74.64" lengthAdjust="spacingAndGlyphs">+ 1,12 m</text>
<text x="1319" y="514.8" font-size="20" text-anchor="middle" font-weight="bold" fill="#d12f13" textLength="58.7" lengthAdjust="spacingAndGlyphs">758,85</text>
<text x="1320.5" y="542.3" font-size="20" text-anchor="middle" font-weight="bold" fill="#d12f13" textLength="44.27" lengthAdjust="spacingAndGlyphs">a s. l.</text>
<text x="1242.75" y="708.3" font-size="20" text-anchor="middle" font-weight="bold" fill="#2f77bc" textLength="58.7" lengthAdjust="spacingAndGlyphs">757,73</text>
<text x="1242" y="735.3" font-size="20" text-anchor="middle" font-weight="bold" fill="#2f77bc" textLength="44.27" lengthAdjust="spacingAndGlyphs">a s. l.</text>
<text x="1444.3" y="585" font-size="33" text-anchor="start" font-weight="normal" fill="#000">+2018</text>
<line x1="845" y1="706.25" x2="845" y2="747" stroke="#16235e" stroke-width="2.4" stroke-dasharray="1.5 1.0"/>
<polyline fill="none" stroke="#1a4882" stroke-width="2.2" stroke-linejoin="miter" points="838.3,733.9 845,745.7 851.7,733.9"/>
<line x1="894.5" y1="674.5" x2="894.5" y2="715" stroke="#16235e" stroke-width="2.4" stroke-dasharray="1.5 1.0"/>
<polyline fill="none" stroke="#1a4882" stroke-width="2.2" stroke-linejoin="miter" points="887.8,701.9 894.5,713.7 901.2,701.9"/>
<line x1="939.5" y1="667.5" x2="939.5" y2="700.75" stroke="#16235e" stroke-width="2.4" stroke-dasharray="1.5 1.0"/>
<polyline fill="none" stroke="#1a4882" stroke-width="2.2" stroke-linejoin="miter" points="932.8,687.65 939.5,699.45 946.2,687.65"/>
<line x1="1011.25" y1="659.5" x2="1011.25" y2="683" stroke="#16235e" stroke-width="2.4" stroke-dasharray="1.5 1.0"/>
<polyline fill="none" stroke="#1a4882" stroke-width="2.2" stroke-linejoin="miter" points="1004.55,669.9 1011.25,681.7 1017.95,669.9"/>
<line x1="1448.75" y1="638" x2="1504.25" y2="638" stroke="#16235e" stroke-width="2.4" stroke-dasharray="1.5 1.0"/>
<polyline fill="none" stroke="#1a4882" stroke-width="2.2" stroke-linejoin="miter" points="1491.15,644.7 1502.95,638 1491.15,631.3"/>
<line x1="1452.5" y1="674.5" x2="1500" y2="674.5" stroke="#16235e" stroke-width="2.4" stroke-dasharray="1.5 1.0"/>
<polyline fill="none" stroke="#1a4882" stroke-width="2.2" stroke-linejoin="miter" points="1486.9,681.2 1498.7,674.5 1486.9,667.8"/>
<line x1="466.25" y1="700.5" x2="450.66" y2="709.5" stroke="#000" stroke-width="3.4" stroke-dasharray="none"/>
<path d="M442,714.5 L448.78,704.24 L454.28,713.76Z" fill="#000"/>
<line x1="478.75" y1="742.5" x2="478.75" y2="766.25" stroke="#000" stroke-width="3" stroke-dasharray="6 3"/>
<path d="M478.75,776.25 L473.25,765.25 L484.25,765.25Z" fill="#000"/>
<line x1="811.75" y1="770" x2="811.75" y2="781.25" stroke="#000" stroke-width="3" stroke-dasharray="6 3"/>
<path d="M811.75,791.25 L806.25,780.25 L817.25,780.25Z" fill="#000"/>
</g>
<g id="panel-c">
<rect x="1.2" y="943.05" width="1856.7" height="439.95" fill="#fff" stroke="#747474" stroke-width="2"/>
<line x1="62.8" y1="1009.1" x2="1823.1" y2="1009.1" stroke="#b9b9b9" stroke-width="2"/>
<line x1="62.8" y1="1090.6" x2="1823.1" y2="1090.6" stroke="#b9b9b9" stroke-width="2"/>
<line x1="62.8" y1="1171.6" x2="1823.1" y2="1171.6" stroke="#b9b9b9" stroke-width="2"/>
<line x1="62.8" y1="1253.2" x2="1823.1" y2="1253.2" stroke="#b9b9b9" stroke-width="2"/>
<line x1="55.8" y1="1009.1" x2="62.8" y2="1009.1" stroke="#7e7e7e" stroke-width="1.7"/>
<text x="44" y="1016.13" font-size="19" text-anchor="end" font-weight="normal" fill="#000">769</text>
<line x1="55.8" y1="1090.6" x2="62.8" y2="1090.6" stroke="#7e7e7e" stroke-width="1.7"/>
<text x="44" y="1097.63" font-size="19" text-anchor="end" font-weight="normal" fill="#000">768</text>
<line x1="55.8" y1="1171.6" x2="62.8" y2="1171.6" stroke="#7e7e7e" stroke-width="1.7"/>
<text x="44" y="1178.63" font-size="19" text-anchor="end" font-weight="normal" fill="#000">767</text>
<line x1="55.8" y1="1253.2" x2="62.8" y2="1253.2" stroke="#7e7e7e" stroke-width="1.7"/>
<text x="44" y="1260.23" font-size="19" text-anchor="end" font-weight="normal" fill="#000">766</text>
<line x1="55.8" y1="1334.6" x2="62.8" y2="1334.6" stroke="#7e7e7e" stroke-width="1.7"/>
<text x="44" y="1341.63" font-size="19" text-anchor="end" font-weight="normal" fill="#000">765</text>
<line x1="62.8" y1="1009.1" x2="62.8" y2="1341.1" stroke="#7e7e7e" stroke-width="1.8"/>
<line x1="55.8" y1="1334.6" x2="1823.1" y2="1334.6" stroke="#7e7e7e" stroke-width="1.8"/>
<line x1="62.8" y1="1334.6" x2="62.8" y2="1341.1" stroke="#7e7e7e" stroke-width="1.7"/>
<text x="63.6" y="1367.94" font-size="19" text-anchor="middle" font-weight="normal" fill="#000">0</text>
<line x1="314.27" y1="1334.6" x2="314.27" y2="1341.1" stroke="#7e7e7e" stroke-width="1.7"/>
<text x="315.07" y="1367.94" font-size="19" text-anchor="middle" font-weight="normal" fill="#000">20</text>
<line x1="565.74" y1="1334.6" x2="565.74" y2="1341.1" stroke="#7e7e7e" stroke-width="1.7"/>
<text x="566.54" y="1367.94" font-size="19" text-anchor="middle" font-weight="normal" fill="#000">40</text>
<line x1="817.22" y1="1334.6" x2="817.22" y2="1341.1" stroke="#7e7e7e" stroke-width="1.7"/>
<text x="818.02" y="1367.94" font-size="19" text-anchor="middle" font-weight="normal" fill="#000">60</text>
<line x1="1068.69" y1="1334.6" x2="1068.69" y2="1341.1" stroke="#7e7e7e" stroke-width="1.7"/>
<text x="1069.49" y="1367.94" font-size="19" text-anchor="middle" font-weight="normal" fill="#000">80</text>
<line x1="1320.16" y1="1334.6" x2="1320.16" y2="1341.1" stroke="#7e7e7e" stroke-width="1.7"/>
<text x="1320.96" y="1367.94" font-size="19" text-anchor="middle" font-weight="normal" fill="#000">100</text>
<line x1="1571.63" y1="1334.6" x2="1571.63" y2="1341.1" stroke="#7e7e7e" stroke-width="1.7"/>
<text x="1572.43" y="1367.94" font-size="19" text-anchor="middle" font-weight="normal" fill="#000">120</text>
<line x1="1823.1" y1="1334.6" x2="1823.1" y2="1341.1" stroke="#7e7e7e" stroke-width="1.7"/>
<text x="1823.9" y="1367.94" font-size="19" text-anchor="middle" font-weight="normal" fill="#000">140</text>
<text x="14.2" y="968" font-size="17.6" text-anchor="start" font-weight="normal" fill="#000">m n.m.</text>
<text x="1841.7" y="1365.5" font-size="16.72" text-anchor="start" font-weight="normal" fill="#000">m</text>
<text x="1779.2" y="989.7" font-size="32.5" text-anchor="start" font-weight="bold" fill="#000" textLength="61.8" lengthAdjust="spacingAndGlyphs">RR4</text>
<text x="99.75" y="1065" font-size="46" text-anchor="start" font-weight="normal" fill="#000">(c)</text>
<polyline fill="none" stroke="#1a4882" stroke-width="4.4" stroke-linejoin="round" stroke-linecap="round" points="379.5,1049.5 406.25,1043 460.75,1037 509.5,1039.25 534.25,1083.75 550.5,1136.75 557,1179.5 560.75,1198.75 580,1232 591.25,1238.75 608,1220 633.75,1217.5 651.25,1212 658.75,1202.5 662,1179.5 675.5,1130 683.25,1127.5 693.25,1135 701.25,1149.5 705.5,1199.25 707.2,1246 715.6,1263 757,1256.25 773.75,1245 791.75,1240.75 810.75,1235.5 835,1222.5 858.25,1207.5 872.5,1197.5 894.25,1175.75 940,1165 975.75,1158.75 1025,1140 1089.25,1145 1133.75,1150 1174.4,1161.25 1219.25,1159.25 1230.75,1164.25 1234.5,1171.25 1241.75,1184.5 1252.5,1179.25 1275.5,1179.5 1281.75,1183 1287.5,1178.25 1292,1168 1300,1162.5 1315,1149.25 1353.25,1152.5 1375,1150.75 1389.5,1146.25 1393,1148 1428.25,1141.75 1448.75,1185.75 1459.25,1082.5 1525.5,1105.75"/>
<ellipse cx="379.5" cy="1049.5" rx="4.45" ry="4.9" fill="#1a4882"/>
<ellipse cx="406.25" cy="1043" rx="4.45" ry="4.9" fill="#1a4882"/>
<ellipse cx="460.75" cy="1037" rx="4.45" ry="4.9" fill="#1a4882"/>
<ellipse cx="509.5" cy="1039.25" rx="4.45" ry="4.9" fill="#1a4882"/>
<ellipse cx="534.25" cy="1083.75" rx="4.45" ry="4.9" fill="#1a4882"/>
<ellipse cx="550.5" cy="1136.75" rx="4.45" ry="4.9" fill="#1a4882"/>
<ellipse cx="557" cy="1179.5" rx="4.45" ry="4.9" fill="#1a4882"/>
<ellipse cx="560.75" cy="1198.75" rx="4.45" ry="4.9" fill="#1a4882"/>
<ellipse cx="580" cy="1232" rx="4.45" ry="4.9" fill="#1a4882"/>
<ellipse cx="591.25" cy="1238.75" rx="4.45" ry="4.9" fill="#1a4882"/>
<ellipse cx="608" cy="1220" rx="4.45" ry="4.9" fill="#1a4882"/>
<ellipse cx="633.75" cy="1217.5" rx="4.45" ry="4.9" fill="#1a4882"/>
<ellipse cx="651.25" cy="1212" rx="4.45" ry="4.9" fill="#1a4882"/>
<ellipse cx="658.75" cy="1202.5" rx="4.45" ry="4.9" fill="#1a4882"/>
<ellipse cx="662" cy="1179.5" rx="4.45" ry="4.9" fill="#1a4882"/>
<ellipse cx="675.5" cy="1130" rx="4.45" ry="4.9" fill="#1a4882"/>
<ellipse cx="683.25" cy="1127.5" rx="4.45" ry="4.9" fill="#1a4882"/>
<ellipse cx="693.25" cy="1135" rx="4.45" ry="4.9" fill="#1a4882"/>
<ellipse cx="701.25" cy="1149.5" rx="4.45" ry="4.9" fill="#1a4882"/>
<ellipse cx="705.5" cy="1199.25" rx="4.45" ry="4.9" fill="#1a4882"/>
<ellipse cx="707.2" cy="1246" rx="4.45" ry="4.9" fill="#1a4882"/>
<ellipse cx="715.6" cy="1263" rx="4.45" ry="4.9" fill="#1a4882"/>
<ellipse cx="757" cy="1256.25" rx="4.45" ry="4.9" fill="#1a4882"/>
<ellipse cx="773.75" cy="1245" rx="4.45" ry="4.9" fill="#1a4882"/>
<ellipse cx="791.75" cy="1240.75" rx="4.45" ry="4.9" fill="#1a4882"/>
<ellipse cx="810.75" cy="1235.5" rx="4.45" ry="4.9" fill="#1a4882"/>
<ellipse cx="835" cy="1222.5" rx="4.45" ry="4.9" fill="#1a4882"/>
<ellipse cx="858.25" cy="1207.5" rx="4.45" ry="4.9" fill="#1a4882"/>
<ellipse cx="872.5" cy="1197.5" rx="4.45" ry="4.9" fill="#1a4882"/>
<ellipse cx="894.25" cy="1175.75" rx="4.45" ry="4.9" fill="#1a4882"/>
<ellipse cx="940" cy="1165" rx="4.45" ry="4.9" fill="#1a4882"/>
<ellipse cx="975.75" cy="1158.75" rx="4.45" ry="4.9" fill="#1a4882"/>
<ellipse cx="1025" cy="1140" rx="4.45" ry="4.9" fill="#1a4882"/>
<ellipse cx="1089.25" cy="1145" rx="4.45" ry="4.9" fill="#1a4882"/>
<ellipse cx="1133.75" cy="1150" rx="4.45" ry="4.9" fill="#1a4882"/>
<ellipse cx="1174.4" cy="1161.25" rx="4.45" ry="4.9" fill="#1a4882"/>
<ellipse cx="1219.25" cy="1159.25" rx="4.45" ry="4.9" fill="#1a4882"/>
<ellipse cx="1230.75" cy="1164.25" rx="4.45" ry="4.9" fill="#1a4882"/>
<ellipse cx="1234.5" cy="1171.25" rx="4.45" ry="4.9" fill="#1a4882"/>
<ellipse cx="1241.75" cy="1184.5" rx="4.45" ry="4.9" fill="#1a4882"/>
<ellipse cx="1252.5" cy="1179.25" rx="4.45" ry="4.9" fill="#1a4882"/>
<ellipse cx="1275.5" cy="1179.5" rx="4.45" ry="4.9" fill="#1a4882"/>
<ellipse cx="1281.75" cy="1183" rx="4.45" ry="4.9" fill="#1a4882"/>
<ellipse cx="1287.5" cy="1178.25" rx="4.45" ry="4.9" fill="#1a4882"/>
<ellipse cx="1292" cy="1168" rx="4.45" ry="4.9" fill="#1a4882"/>
<ellipse cx="1300" cy="1162.5" rx="4.45" ry="4.9" fill="#1a4882"/>
<ellipse cx="1315" cy="1149.25" rx="4.45" ry="4.9" fill="#1a4882"/>
<ellipse cx="1353.25" cy="1152.5" rx="4.45" ry="4.9" fill="#1a4882"/>
<ellipse cx="1375" cy="1150.75" rx="4.45" ry="4.9" fill="#1a4882"/>
<ellipse cx="1389.5" cy="1146.25" rx="4.45" ry="4.9" fill="#1a4882"/>
<ellipse cx="1393" cy="1148" rx="4.45" ry="4.9" fill="#1a4882"/>
<ellipse cx="1428.25" cy="1141.75" rx="4.45" ry="4.9" fill="#1a4882"/>
<ellipse cx="1448.75" cy="1185.75" rx="4.45" ry="4.9" fill="#1a4882"/>
<ellipse cx="1459.25" cy="1082.5" rx="4.45" ry="4.9" fill="#1a4882"/>
<ellipse cx="1525.5" cy="1105.75" rx="4.45" ry="4.9" fill="#1a4882"/>
<ellipse cx="705.5" cy="1199.25" rx="8.2" ry="8.7" fill="#1a4882"/>
<ellipse cx="894.25" cy="1175.75" rx="8.2" ry="8.7" fill="#1a4882"/>
<path d="M715.6,1255 L723.85,1271 L707.35,1271Z" fill="#1a4882"/>
<polyline fill="none" stroke="#d12f13" stroke-width="4.4" stroke-linejoin="round" stroke-linecap="round" points="558.25,1201.25 571.25,1205.5 598.75,1228.75 619.5,1245 643.75,1213 649.5,1178.25 661.75,1155.5 668,1171.25 675.5,1202.5 688.75,1204.5 738,1202.5 790.5,1190 864.5,1191.25 919.5,1196.25 965,1207.5 1002,1206.25 1033,1190 1078,1177 1142.5,1153.75 1191.25,1159.25 1245.75,1191.25 1284.25,1160.5 1320,1156.75 1352,1167 1375.75,1147.5 1385.75,1146.75"/>
<ellipse cx="558.25" cy="1201.25" rx="4.45" ry="4.9" fill="#d12f13"/>
<ellipse cx="571.25" cy="1205.5" rx="4.45" ry="4.9" fill="#d12f13"/>
<ellipse cx="598.75" cy="1228.75" rx="4.45" ry="4.9" fill="#d12f13"/>
<ellipse cx="619.5" cy="1245" rx="4.45" ry="4.9" fill="#d12f13"/>
<ellipse cx="643.75" cy="1213" rx="4.45" ry="4.9" fill="#d12f13"/>
<ellipse cx="649.5" cy="1178.25" rx="4.45" ry="4.9" fill="#d12f13"/>
<ellipse cx="661.75" cy="1155.5" rx="4.45" ry="4.9" fill="#d12f13"/>
<ellipse cx="668" cy="1171.25" rx="4.45" ry="4.9" fill="#d12f13"/>
<ellipse cx="675.5" cy="1202.5" rx="4.45" ry="4.9" fill="#d12f13"/>
<ellipse cx="688.75" cy="1204.5" rx="4.45" ry="4.9" fill="#d12f13"/>
<ellipse cx="738" cy="1202.5" rx="4.45" ry="4.9" fill="#d12f13"/>
<ellipse cx="790.5" cy="1190" rx="4.45" ry="4.9" fill="#d12f13"/>
<ellipse cx="864.5" cy="1191.25" rx="4.45" ry="4.9" fill="#d12f13"/>
<ellipse cx="919.5" cy="1196.25" rx="4.45" ry="4.9" fill="#d12f13"/>
<ellipse cx="965" cy="1207.5" rx="4.45" ry="4.9" fill="#d12f13"/>
<ellipse cx="1002" cy="1206.25" rx="4.45" ry="4.9" fill="#d12f13"/>
<ellipse cx="1033" cy="1190" rx="4.45" ry="4.9" fill="#d12f13"/>
<ellipse cx="1078" cy="1177" rx="4.45" ry="4.9" fill="#d12f13"/>
<ellipse cx="1142.5" cy="1153.75" rx="4.45" ry="4.9" fill="#d12f13"/>
<ellipse cx="1191.25" cy="1159.25" rx="4.45" ry="4.9" fill="#d12f13"/>
<ellipse cx="1245.75" cy="1191.25" rx="4.45" ry="4.9" fill="#d12f13"/>
<ellipse cx="1284.25" cy="1160.5" rx="4.45" ry="4.9" fill="#d12f13"/>
<ellipse cx="1320" cy="1156.75" rx="4.45" ry="4.9" fill="#d12f13"/>
<ellipse cx="1352" cy="1167" rx="4.45" ry="4.9" fill="#d12f13"/>
<ellipse cx="1375.75" cy="1147.5" rx="4.45" ry="4.9" fill="#d12f13"/>
<ellipse cx="1385.75" cy="1146.75" rx="4.45" ry="4.9" fill="#d12f13"/>
<ellipse cx="668" cy="1171.25" rx="8.2" ry="8.7" fill="#d12f13"/>
<ellipse cx="1078" cy="1177" rx="8.2" ry="8.7" fill="#d12f13"/>
<path d="M688.75,1196.5 L697,1212.5 L680.5,1212.5Z" fill="#d12f13"/>
<line x1="554.5" y1="1039.5" x2="1318.5" y2="1039.5" stroke="#000" stroke-width="9.6" stroke-dasharray="9 9.856"/>
<line x1="670" y1="1086" x2="670" y2="1171" stroke="#6e6e6e" stroke-width="2.1" stroke-dasharray="4.8 3.1"/>
<line x1="706.75" y1="1127" x2="706.75" y2="1199" stroke="#6e6e6e" stroke-width="2.1" stroke-dasharray="4.8 3.1"/>
<line x1="895.75" y1="1126" x2="895.75" y2="1175" stroke="#6e6e6e" stroke-width="2.1" stroke-dasharray="4.8 3.1"/>
<line x1="1080" y1="1086" x2="1080" y2="1177" stroke="#6e6e6e" stroke-width="2.1" stroke-dasharray="4.8 3.1"/>
<line x1="680.5" y1="1085.6" x2="1070.75" y2="1086.3" stroke="#d12f13" stroke-width="3.7" stroke-dasharray="9.5 4.3"/>
<path d="M670,1085.6 l11.5,-5.5 v11.0Z M1081.25,1086.3 l-11.5,-5.5 v11.0Z" fill="#d12f13"/>
<text x="913" y="1073.55" font-size="20" text-anchor="middle" font-weight="bold" fill="#d12f13" textLength="67.55" lengthAdjust="spacingAndGlyphs">32,61 m</text>
<line x1="718" y1="1126.6" x2="885.75" y2="1125.6" stroke="#2f77bc" stroke-width="3.7" stroke-dasharray="9.5 4.3"/>
<path d="M707.5,1126.6 l11.5,-5.5 v11.0Z M896.25,1125.6 l-11.5,-5.5 v11.0Z" fill="#2f77bc"/>
<text x="805.6" y="1115.8" font-size="20" text-anchor="middle" font-weight="bold" fill="#2f77bc" textLength="67.05" lengthAdjust="spacingAndGlyphs">13,25 m</text>
<text x="665.4" y="1251.55" font-size="20" text-anchor="middle" font-weight="bold" fill="#d12f13" textLength="56.42" lengthAdjust="spacingAndGlyphs">766,60</text>
<text x="666" y="1276.05" font-size="20" text-anchor="middle" font-weight="bold" fill="#d12f13" textLength="42.5" lengthAdjust="spacingAndGlyphs">a s. l.</text>
<text x="756.5" y="1292.3" font-size="20" text-anchor="middle" font-weight="bold" fill="#2f77bc" textLength="56.17" lengthAdjust="spacingAndGlyphs">765,89</text>
<text x="757.4" y="1317.3" font-size="20" text-anchor="middle" font-weight="bold" fill="#2f77bc" textLength="42" lengthAdjust="spacingAndGlyphs">a s. l.</text>
<line x1="730.75" y1="1257.5" x2="730.75" y2="1225" stroke="#16235e" stroke-width="2.4" stroke-dasharray="1.5 1.0"/>
<polyline fill="none" stroke="#1a4882" stroke-width="2.2" stroke-linejoin="miter" points="737.45,1238.1 730.75,1226.3 724.05,1238.1"/>
<line x1="775" y1="1243.75" x2="775" y2="1205" stroke="#16235e" stroke-width="2.4" stroke-dasharray="1.5 1.0"/>
<polyline fill="none" stroke="#1a4882" stroke-width="2.2" stroke-linejoin="miter" points="781.7,1218.1 775,1206.3 768.3,1218.1"/>
<line x1="990" y1="1156" x2="990" y2="1184.5" stroke="#16235e" stroke-width="2.4" stroke-dasharray="1.5 1.0"/>
<polyline fill="none" stroke="#1a4882" stroke-width="2.2" stroke-linejoin="miter" points="983.3,1171.4 990,1183.2 996.7,1171.4"/>
<line x1="1042" y1="1145" x2="1042" y2="1175.75" stroke="#16235e" stroke-width="2.4" stroke-dasharray="1.5 1.0"/>
<polyline fill="none" stroke="#1a4882" stroke-width="2.2" stroke-linejoin="miter" points="1035.3,1162.65 1042,1174.45 1048.7,1162.65"/>
</g>
<g id="panel-d">
<rect x="1.2" y="1389.05" width="1857.8" height="499.85" fill="#fff" stroke="#747474" stroke-width="2"/>
<line x1="71.1" y1="1467.4" x2="1812.9" y2="1467.4" stroke="#b9b9b9" stroke-width="2"/>
<line x1="71.1" y1="1529.3" x2="1812.9" y2="1529.3" stroke="#b9b9b9" stroke-width="2"/>
<line x1="71.1" y1="1590.4" x2="1812.9" y2="1590.4" stroke="#b9b9b9" stroke-width="2"/>
<line x1="71.1" y1="1651.3" x2="1812.9" y2="1651.3" stroke="#b9b9b9" stroke-width="2"/>
<line x1="71.1" y1="1713.3" x2="1812.9" y2="1713.3" stroke="#b9b9b9" stroke-width="2"/>
<line x1="71.1" y1="1774.3" x2="1812.9" y2="1774.3" stroke="#b9b9b9" stroke-width="2"/>
<line x1="63.1" y1="1467.4" x2="71.1" y2="1467.4" stroke="#7e7e7e" stroke-width="1.7"/>
<text x="49.3" y="1475.1" font-size="20.8" text-anchor="end" font-weight="normal" fill="#000">850</text>
<line x1="63.1" y1="1529.3" x2="71.1" y2="1529.3" stroke="#7e7e7e" stroke-width="1.7"/>
<text x="49.3" y="1537" font-size="20.8" text-anchor="end" font-weight="normal" fill="#000">849</text>
<line x1="63.1" y1="1590.4" x2="71.1" y2="1590.4" stroke="#7e7e7e" stroke-width="1.7"/>
<text x="49.3" y="1598.1" font-size="20.8" text-anchor="end" font-weight="normal" fill="#000">848</text>
<line x1="63.1" y1="1651.3" x2="71.1" y2="1651.3" stroke="#7e7e7e" stroke-width="1.7"/>
<text x="49.3" y="1659" font-size="20.8" text-anchor="end" font-weight="normal" fill="#000">847</text>
<line x1="63.1" y1="1713.3" x2="71.1" y2="1713.3" stroke="#7e7e7e" stroke-width="1.7"/>
<text x="49.3" y="1721" font-size="20.8" text-anchor="end" font-weight="normal" fill="#000">846</text>
<line x1="63.1" y1="1774.3" x2="71.1" y2="1774.3" stroke="#7e7e7e" stroke-width="1.7"/>
<text x="49.3" y="1782" font-size="20.8" text-anchor="end" font-weight="normal" fill="#000">845</text>
<line x1="63.1" y1="1836.5" x2="71.1" y2="1836.5" stroke="#7e7e7e" stroke-width="1.7"/>
<text x="49.3" y="1844.2" font-size="20.8" text-anchor="end" font-weight="normal" fill="#000">844</text>
<line x1="71.1" y1="1467.4" x2="71.1" y2="1843" stroke="#7e7e7e" stroke-width="1.8"/>
<line x1="64.1" y1="1836.5" x2="1812.9" y2="1836.5" stroke="#7e7e7e" stroke-width="1.8"/>
<line x1="71.1" y1="1836.5" x2="71.1" y2="1843" stroke="#7e7e7e" stroke-width="1.7"/>
<text x="71.9" y="1874.18" font-size="20.8" text-anchor="middle" font-weight="normal" fill="#000">0</text>
<line x1="319.93" y1="1836.5" x2="319.93" y2="1843" stroke="#7e7e7e" stroke-width="1.7"/>
<text x="320.73" y="1874.18" font-size="20.8" text-anchor="middle" font-weight="normal" fill="#000">20</text>
<line x1="568.76" y1="1836.5" x2="568.76" y2="1843" stroke="#7e7e7e" stroke-width="1.7"/>
<text x="569.56" y="1874.18" font-size="20.8" text-anchor="middle" font-weight="normal" fill="#000">40</text>
<line x1="817.58" y1="1836.5" x2="817.58" y2="1843" stroke="#7e7e7e" stroke-width="1.7"/>
<text x="818.38" y="1874.18" font-size="20.8" text-anchor="middle" font-weight="normal" fill="#000">60</text>
<line x1="1066.41" y1="1836.5" x2="1066.41" y2="1843" stroke="#7e7e7e" stroke-width="1.7"/>
<text x="1067.21" y="1874.18" font-size="20.8" text-anchor="middle" font-weight="normal" fill="#000">80</text>
<line x1="1315.24" y1="1836.5" x2="1315.24" y2="1843" stroke="#7e7e7e" stroke-width="1.7"/>
<text x="1316.04" y="1874.18" font-size="20.8" text-anchor="middle" font-weight="normal" fill="#000">100</text>
<line x1="1564.07" y1="1836.5" x2="1564.07" y2="1843" stroke="#7e7e7e" stroke-width="1.7"/>
<text x="1564.87" y="1874.18" font-size="20.8" text-anchor="middle" font-weight="normal" fill="#000">120</text>
<line x1="1812.9" y1="1836.5" x2="1812.9" y2="1843" stroke="#7e7e7e" stroke-width="1.7"/>
<text x="1813.7" y="1874.18" font-size="20.8" text-anchor="middle" font-weight="normal" fill="#000">140</text>
<text x="15.1" y="1415.3" font-size="20.2" text-anchor="start" font-weight="normal" fill="#000">m n.m.</text>
<text x="1842" y="1870.8" font-size="18.3" text-anchor="start" font-weight="normal" fill="#000">m</text>
<text x="1779.8" y="1438.1" font-size="32.5" text-anchor="start" font-weight="bold" fill="#000" textLength="61.5" lengthAdjust="spacingAndGlyphs">RR8</text>
<text x="101.73" y="1514.8" font-size="49.5" text-anchor="start" font-weight="normal" fill="#000">(d)</text>
<polyline fill="none" stroke="#1a4882" stroke-width="4.8" stroke-linejoin="round" stroke-linecap="round" points="452.5,1489.5 485.75,1497.5 505,1510.75 541.75,1585 577.5,1610.75 581.25,1652.5 590,1695 600,1733.75 605,1743.75 612,1751.25 622,1764.5 627.5,1772.5 636.25,1778.75 645,1783.25 665.5,1786.25 682.5,1778.75 697,1766.75 710,1768.75 752,1732.5 763.75,1732.5 795.75,1700.5 835,1725 862.5,1720.5 888.75,1720.5 933.75,1728 962.5,1730.75 983,1748.75 993.75,1753.75 1036.75,1755.5 1060,1753.25 1085.75,1755 1113,1773 1120.75,1774.5 1126.25,1740 1139.25,1739.25 1161.25,1724.25 1345,1711.75 1423.25,1709.25 1504.25,1677 1578.25,1688.75"/>
<ellipse cx="452.5" cy="1489.5" rx="4.7" ry="5.5" fill="#1a4882"/>
<ellipse cx="485.75" cy="1497.5" rx="4.7" ry="5.5" fill="#1a4882"/>
<ellipse cx="505" cy="1510.75" rx="4.7" ry="5.5" fill="#1a4882"/>
<ellipse cx="541.75" cy="1585" rx="4.7" ry="5.5" fill="#1a4882"/>
<ellipse cx="577.5" cy="1610.75" rx="4.7" ry="5.5" fill="#1a4882"/>
<ellipse cx="581.25" cy="1652.5" rx="4.7" ry="5.5" fill="#1a4882"/>
<ellipse cx="590" cy="1695" rx="4.7" ry="5.5" fill="#1a4882"/>
<ellipse cx="600" cy="1733.75" rx="4.7" ry="5.5" fill="#1a4882"/>
<ellipse cx="605" cy="1743.75" rx="4.7" ry="5.5" fill="#1a4882"/>
<ellipse cx="612" cy="1751.25" rx="4.7" ry="5.5" fill="#1a4882"/>
<ellipse cx="622" cy="1764.5" rx="4.7" ry="5.5" fill="#1a4882"/>
<ellipse cx="627.5" cy="1772.5" rx="4.7" ry="5.5" fill="#1a4882"/>
<ellipse cx="636.25" cy="1778.75" rx="4.7" ry="5.5" fill="#1a4882"/>
<ellipse cx="645" cy="1783.25" rx="4.7" ry="5.5" fill="#1a4882"/>
<ellipse cx="665.5" cy="1786.25" rx="4.7" ry="5.5" fill="#1a4882"/>
<ellipse cx="682.5" cy="1778.75" rx="4.7" ry="5.5" fill="#1a4882"/>
<ellipse cx="697" cy="1766.75" rx="4.7" ry="5.5" fill="#1a4882"/>
<ellipse cx="710" cy="1768.75" rx="4.7" ry="5.5" fill="#1a4882"/>
<ellipse cx="752" cy="1732.5" rx="4.7" ry="5.5" fill="#1a4882"/>
<ellipse cx="763.75" cy="1732.5" rx="4.7" ry="5.5" fill="#1a4882"/>
<ellipse cx="795.75" cy="1700.5" rx="4.7" ry="5.5" fill="#1a4882"/>
<ellipse cx="835" cy="1725" rx="4.7" ry="5.5" fill="#1a4882"/>
<ellipse cx="862.5" cy="1720.5" rx="4.7" ry="5.5" fill="#1a4882"/>
<ellipse cx="888.75" cy="1720.5" rx="4.7" ry="5.5" fill="#1a4882"/>
<ellipse cx="933.75" cy="1728" rx="4.7" ry="5.5" fill="#1a4882"/>
<ellipse cx="962.5" cy="1730.75" rx="4.7" ry="5.5" fill="#1a4882"/>
<ellipse cx="983" cy="1748.75" rx="4.7" ry="5.5" fill="#1a4882"/>
<ellipse cx="993.75" cy="1753.75" rx="4.7" ry="5.5" fill="#1a4882"/>
<ellipse cx="1036.75" cy="1755.5" rx="4.7" ry="5.5" fill="#1a4882"/>
<ellipse cx="1060" cy="1753.25" rx="4.7" ry="5.5" fill="#1a4882"/>
<ellipse cx="1085.75" cy="1755" rx="4.7" ry="5.5" fill="#1a4882"/>
<ellipse cx="1113" cy="1773" rx="4.7" ry="5.5" fill="#1a4882"/>
<ellipse cx="1120.75" cy="1774.5" rx="4.7" ry="5.5" fill="#1a4882"/>
<ellipse cx="1126.25" cy="1740" rx="4.7" ry="5.5" fill="#1a4882"/>
<ellipse cx="1139.25" cy="1739.25" rx="4.7" ry="5.5" fill="#1a4882"/>
<ellipse cx="1161.25" cy="1724.25" rx="4.7" ry="5.5" fill="#1a4882"/>
<ellipse cx="1345" cy="1711.75" rx="4.7" ry="5.5" fill="#1a4882"/>
<ellipse cx="1423.25" cy="1709.25" rx="4.7" ry="5.5" fill="#1a4882"/>
<ellipse cx="1504.25" cy="1677" rx="4.7" ry="5.5" fill="#1a4882"/>
<ellipse cx="1578.25" cy="1688.75" rx="4.7" ry="5.5" fill="#1a4882"/>
<ellipse cx="612" cy="1751.25" rx="8.9" ry="9.4" fill="#1a4882"/>
<polyline fill="none" stroke="#d12f13" stroke-width="4.8" stroke-linejoin="round" stroke-linecap="round" points="450.5,1492 482.5,1502.5 508.75,1557 525,1584.25 540.75,1578 555,1586.25 572.5,1594.5 592.5,1622.5 638,1668.25 682.5,1714.25 730.75,1748 766.75,1752 788.25,1750.75 813,1752 838,1749.7 877,1762 884.5,1765.5 890.5,1770 901.75,1765.5 914.5,1759.5 923.25,1756.25 950.75,1753.25 971.25,1745.75 995.75,1738 1040.5,1736.75 1068.25,1736.25 1095.75,1750 1115,1758.75 1131.75,1767 1145,1758.75 1158.25,1727"/>
<ellipse cx="450.5" cy="1492" rx="4.7" ry="5.5" fill="#d12f13"/>
<ellipse cx="482.5" cy="1502.5" rx="4.7" ry="5.5" fill="#d12f13"/>
<ellipse cx="508.75" cy="1557" rx="4.7" ry="5.5" fill="#d12f13"/>
<ellipse cx="525" cy="1584.25" rx="4.7" ry="5.5" fill="#d12f13"/>
<ellipse cx="540.75" cy="1578" rx="4.7" ry="5.5" fill="#d12f13"/>
<ellipse cx="555" cy="1586.25" rx="4.7" ry="5.5" fill="#d12f13"/>
<ellipse cx="572.5" cy="1594.5" rx="4.7" ry="5.5" fill="#d12f13"/>
<ellipse cx="592.5" cy="1622.5" rx="4.7" ry="5.5" fill="#d12f13"/>
<ellipse cx="638" cy="1668.25" rx="4.7" ry="5.5" fill="#d12f13"/>
<ellipse cx="682.5" cy="1714.25" rx="4.7" ry="5.5" fill="#d12f13"/>
<ellipse cx="730.75" cy="1748" rx="4.7" ry="5.5" fill="#d12f13"/>
<ellipse cx="766.75" cy="1752" rx="4.7" ry="5.5" fill="#d12f13"/>
<ellipse cx="788.25" cy="1750.75" rx="4.7" ry="5.5" fill="#d12f13"/>
<ellipse cx="813" cy="1752" rx="4.7" ry="5.5" fill="#d12f13"/>
<ellipse cx="838" cy="1749.7" rx="4.7" ry="5.5" fill="#d12f13"/>
<ellipse cx="877" cy="1762" rx="4.7" ry="5.5" fill="#d12f13"/>
<ellipse cx="884.5" cy="1765.5" rx="4.7" ry="5.5" fill="#d12f13"/>
<ellipse cx="890.5" cy="1770" rx="4.7" ry="5.5" fill="#d12f13"/>
<ellipse cx="901.75" cy="1765.5" rx="4.7" ry="5.5" fill="#d12f13"/>
<ellipse cx="914.5" cy="1759.5" rx="4.7" ry="5.5" fill="#d12f13"/>
<ellipse cx="923.25" cy="1756.25" rx="4.7" ry="5.5" fill="#d12f13"/>
<ellipse cx="950.75" cy="1753.25" rx="4.7" ry="5.5" fill="#d12f13"/>
<ellipse cx="971.25" cy="1745.75" rx="4.7" ry="5.5" fill="#d12f13"/>
<ellipse cx="995.75" cy="1738" rx="4.7" ry="5.5" fill="#d12f13"/>
<ellipse cx="1040.5" cy="1736.75" rx="4.7" ry="5.5" fill="#d12f13"/>
<ellipse cx="1068.25" cy="1736.25" rx="4.7" ry="5.5" fill="#d12f13"/>
<ellipse cx="1095.75" cy="1750" rx="4.7" ry="5.5" fill="#d12f13"/>
<ellipse cx="1115" cy="1758.75" rx="4.7" ry="5.5" fill="#d12f13"/>
<ellipse cx="1131.75" cy="1767" rx="4.7" ry="5.5" fill="#d12f13"/>
<ellipse cx="1145" cy="1758.75" rx="4.7" ry="5.5" fill="#d12f13"/>
<ellipse cx="1158.25" cy="1727" rx="4.7" ry="5.5" fill="#d12f13"/>
<ellipse cx="730.75" cy="1748" rx="8.9" ry="9.4" fill="#d12f13"/>
<ellipse cx="971.25" cy="1745.75" rx="8.9" ry="9.4" fill="#d12f13"/>
<line x1="583" y1="1611.25" x2="1159" y2="1611.25" stroke="#000" stroke-width="9.6" stroke-dasharray="9 9.883"/>
<line x1="611.75" y1="1677" x2="611.75" y2="1751" stroke="#6e6e6e" stroke-width="2.1" stroke-dasharray="4.8 3.1"/>
<line x1="731.75" y1="1677" x2="731.75" y2="1748" stroke="#6e6e6e" stroke-width="2.1" stroke-dasharray="4.8 3.1"/>
<line x1="975" y1="1677" x2="975" y2="1745" stroke="#6e6e6e" stroke-width="2.1" stroke-dasharray="4.8 3.1"/>
<line x1="622.5" y1="1677" x2="720.5" y2="1677" stroke="#2f77bc" stroke-width="4.6" stroke-dasharray="11.3 5.2"/>
<path d="M610.5,1677 l13,-6.2 v12.4Z M732.5,1677 l-13,-6.2 v12.4Z" fill="#2f77bc"/>
<text x="676.25" y="1650.8" font-size="21" text-anchor="middle" font-weight="bold" fill="#2f77bc" textLength="75.9" lengthAdjust="spacingAndGlyphs">10,28 m</text>
<line x1="748.25" y1="1676.4" x2="965.5" y2="1677" stroke="#d12f13" stroke-width="4.6" stroke-dasharray="11.3 5.2"/>
<path d="M736.25,1676.4 l13,-6.2 v12.4Z M977.5,1677 l-13,-6.2 v12.4Z" fill="#d12f13"/>
<text x="854.75" y="1650.3" font-size="21" text-anchor="middle" font-weight="bold" fill="#d12f13" textLength="75.39" lengthAdjust="spacingAndGlyphs">19,26 m</text>
<line x1="638.75" y1="1773.75" x2="638.75" y2="1742.5" stroke="#16235e" stroke-width="2.4" stroke-dasharray="1.5 1.0"/>
<polyline fill="none" stroke="#1a4882" stroke-width="2.2" stroke-linejoin="miter" points="646.05,1757 638.75,1743.8 631.45,1757"/>
<line x1="677.5" y1="1777.5" x2="677.5" y2="1739.5" stroke="#16235e" stroke-width="2.4" stroke-dasharray="1.5 1.0"/>
<polyline fill="none" stroke="#1a4882" stroke-width="2.2" stroke-linejoin="miter" points="684.8,1754 677.5,1740.8 670.2,1754"/>
<line x1="797" y1="1706.25" x2="797" y2="1732.5" stroke="#16235e" stroke-width="2.4" stroke-dasharray="1.5 1.0"/>
<polyline fill="none" stroke="#1a4882" stroke-width="2.2" stroke-linejoin="miter" points="789.7,1718 797,1731.2 804.3,1718"/>
<line x1="882" y1="1722.5" x2="882" y2="1753" stroke="#16235e" stroke-width="2.4" stroke-dasharray="1.5 1.0"/>
<polyline fill="none" stroke="#1a4882" stroke-width="2.2" stroke-linejoin="miter" points="874.7,1738.5 882,1751.7 889.3,1738.5"/>
</g>
<g id="panel-e">
<rect x="1.2" y="1895.6" width="1858.3" height="465.5" fill="#fff" stroke="#747474" stroke-width="2"/>
<line x1="77.8" y1="1946.7" x2="1817.9" y2="1946.7" stroke="#b9b9b9" stroke-width="2"/>
<line x1="77.8" y1="2015.7" x2="1817.9" y2="2015.7" stroke="#b9b9b9" stroke-width="2"/>
<line x1="77.8" y1="2084.9" x2="1817.9" y2="2084.9" stroke="#b9b9b9" stroke-width="2"/>
<line x1="77.8" y1="2154.1" x2="1817.9" y2="2154.1" stroke="#b9b9b9" stroke-width="2"/>
<line x1="77.8" y1="2223.2" x2="1817.9" y2="2223.2" stroke="#b9b9b9" stroke-width="2"/>
<line x1="70.8" y1="1946.7" x2="77.8" y2="1946.7" stroke="#7e7e7e" stroke-width="1.7"/>
<text x="57.7" y="1954.03" font-size="19.8" text-anchor="end" font-weight="normal" fill="#000">889</text>
<line x1="70.8" y1="2015.7" x2="77.8" y2="2015.7" stroke="#7e7e7e" stroke-width="1.7"/>
<text x="57.7" y="2023.03" font-size="19.8" text-anchor="end" font-weight="normal" fill="#000">888</text>
<line x1="70.8" y1="2084.9" x2="77.8" y2="2084.9" stroke="#7e7e7e" stroke-width="1.7"/>
<text x="57.7" y="2092.23" font-size="19.8" text-anchor="end" font-weight="normal" fill="#000">887</text>
<line x1="70.8" y1="2154.1" x2="77.8" y2="2154.1" stroke="#7e7e7e" stroke-width="1.7"/>
<text x="57.7" y="2161.43" font-size="19.8" text-anchor="end" font-weight="normal" fill="#000">886</text>
<line x1="70.8" y1="2223.2" x2="77.8" y2="2223.2" stroke="#7e7e7e" stroke-width="1.7"/>
<text x="57.7" y="2230.53" font-size="19.8" text-anchor="end" font-weight="normal" fill="#000">885</text>
<line x1="70.8" y1="2292.3" x2="77.8" y2="2292.3" stroke="#7e7e7e" stroke-width="1.7"/>
<text x="57.7" y="2299.63" font-size="19.8" text-anchor="end" font-weight="normal" fill="#000">884</text>
<line x1="77.8" y1="1946.7" x2="77.8" y2="2298.8" stroke="#7e7e7e" stroke-width="1.8"/>
<line x1="70.8" y1="2292.3" x2="1817.9" y2="2292.3" stroke="#7e7e7e" stroke-width="1.8"/>
<line x1="77.8" y1="2292.3" x2="77.8" y2="2298.8" stroke="#7e7e7e" stroke-width="1.7"/>
<text x="78.6" y="2327.53" font-size="19.8" text-anchor="middle" font-weight="normal" fill="#000">0</text>
<line x1="367.82" y1="2292.3" x2="367.82" y2="2298.8" stroke="#7e7e7e" stroke-width="1.7"/>
<text x="368.62" y="2327.53" font-size="19.8" text-anchor="middle" font-weight="normal" fill="#000">20</text>
<line x1="657.83" y1="2292.3" x2="657.83" y2="2298.8" stroke="#7e7e7e" stroke-width="1.7"/>
<text x="658.63" y="2327.53" font-size="19.8" text-anchor="middle" font-weight="normal" fill="#000">40</text>
<line x1="947.85" y1="2292.3" x2="947.85" y2="2298.8" stroke="#7e7e7e" stroke-width="1.7"/>
<text x="948.65" y="2327.53" font-size="19.8" text-anchor="middle" font-weight="normal" fill="#000">60</text>
<line x1="1237.86" y1="2292.3" x2="1237.86" y2="2298.8" stroke="#7e7e7e" stroke-width="1.7"/>
<text x="1238.66" y="2327.53" font-size="19.8" text-anchor="middle" font-weight="normal" fill="#000">80</text>
<line x1="1527.88" y1="2292.3" x2="1527.88" y2="2298.8" stroke="#7e7e7e" stroke-width="1.7"/>
<text x="1528.68" y="2327.53" font-size="19.8" text-anchor="middle" font-weight="normal" fill="#000">100</text>
<line x1="1817.9" y1="2292.3" x2="1817.9" y2="2298.8" stroke="#7e7e7e" stroke-width="1.7"/>
<text x="1818.7" y="2327.53" font-size="19.8" text-anchor="middle" font-weight="normal" fill="#000">120</text>
<text x="15.2" y="1921" font-size="18.3" text-anchor="start" font-weight="normal" fill="#000">m n.m.</text>
<text x="1842.4" y="2325.8" font-size="17.42" text-anchor="start" font-weight="normal" fill="#000">m</text>
<text x="1762.2" y="1933.5" font-size="32.5" text-anchor="start" font-weight="bold" fill="#000" textLength="78.8" lengthAdjust="spacingAndGlyphs">RR11</text>
<text x="106.45" y="1996.8" font-size="46" text-anchor="start" font-weight="normal" fill="#000">(e)</text>
<polyline fill="none" stroke="#1a4882" stroke-width="4.7" stroke-linejoin="round" stroke-linecap="round" points="371.75,2010.5 418.75,2015 424.25,2049.5 432,2075.75 443,2124.5 450.75,2143 462,2149.5 474.25,2176.25 483.75,2186.25 495,2186.25 506.5,2195 532.5,2178.25 567.5,2181.25 596.25,2171.75 610.75,2173.25 625.75,2170 643.75,2160.5 660.75,2159.25 669.5,2168.75 678.75,2165 694.7,2150.7 709.8,2132 754.5,2124.25 787.5,2144.5 830.75,2135 845,2145 866.25,2095.75 890.5,2092.5 909.25,2096.75 929.5,2111.25 948.75,2105.75 956.25,2145 967,2145.5 970,2151.25 988.75,2148 1000,2155.5 1012.5,2145 1020.7,2128 1032,2109.5 1074.5,2126.25 1113.1,2136.75 1130,2138 1159.5,2118.75 1192.5,2105 1220.75,2093.25 1285.5,2108 1379.25,2067 1480.75,2076.75"/>
<ellipse cx="371.75" cy="2010.5" rx="4.8" ry="5.3" fill="#1a4882"/>
<ellipse cx="418.75" cy="2015" rx="4.8" ry="5.3" fill="#1a4882"/>
<ellipse cx="424.25" cy="2049.5" rx="4.8" ry="5.3" fill="#1a4882"/>
<ellipse cx="432" cy="2075.75" rx="4.8" ry="5.3" fill="#1a4882"/>
<ellipse cx="443" cy="2124.5" rx="4.8" ry="5.3" fill="#1a4882"/>
<ellipse cx="450.75" cy="2143" rx="4.8" ry="5.3" fill="#1a4882"/>
<ellipse cx="462" cy="2149.5" rx="4.8" ry="5.3" fill="#1a4882"/>
<ellipse cx="474.25" cy="2176.25" rx="4.8" ry="5.3" fill="#1a4882"/>
<ellipse cx="483.75" cy="2186.25" rx="4.8" ry="5.3" fill="#1a4882"/>
<ellipse cx="495" cy="2186.25" rx="4.8" ry="5.3" fill="#1a4882"/>
<ellipse cx="506.5" cy="2195" rx="4.8" ry="5.3" fill="#1a4882"/>
<ellipse cx="532.5" cy="2178.25" rx="4.8" ry="5.3" fill="#1a4882"/>
<ellipse cx="567.5" cy="2181.25" rx="4.8" ry="5.3" fill="#1a4882"/>
<ellipse cx="596.25" cy="2171.75" rx="4.8" ry="5.3" fill="#1a4882"/>
<ellipse cx="610.75" cy="2173.25" rx="4.8" ry="5.3" fill="#1a4882"/>
<ellipse cx="625.75" cy="2170" rx="4.8" ry="5.3" fill="#1a4882"/>
<ellipse cx="643.75" cy="2160.5" rx="4.8" ry="5.3" fill="#1a4882"/>
<ellipse cx="660.75" cy="2159.25" rx="4.8" ry="5.3" fill="#1a4882"/>
<ellipse cx="669.5" cy="2168.75" rx="4.8" ry="5.3" fill="#1a4882"/>
<ellipse cx="678.75" cy="2165" rx="4.8" ry="5.3" fill="#1a4882"/>
<ellipse cx="694.7" cy="2150.7" rx="4.8" ry="5.3" fill="#1a4882"/>
<ellipse cx="709.8" cy="2132" rx="4.8" ry="5.3" fill="#1a4882"/>
<ellipse cx="754.5" cy="2124.25" rx="4.8" ry="5.3" fill="#1a4882"/>
<ellipse cx="787.5" cy="2144.5" rx="4.8" ry="5.3" fill="#1a4882"/>
<ellipse cx="830.75" cy="2135" rx="4.8" ry="5.3" fill="#1a4882"/>
<ellipse cx="845" cy="2145" rx="4.8" ry="5.3" fill="#1a4882"/>
<ellipse cx="866.25" cy="2095.75" rx="4.8" ry="5.3" fill="#1a4882"/>
<ellipse cx="890.5" cy="2092.5" rx="4.8" ry="5.3" fill="#1a4882"/>
<ellipse cx="909.25" cy="2096.75" rx="4.8" ry="5.3" fill="#1a4882"/>
<ellipse cx="929.5" cy="2111.25" rx="4.8" ry="5.3" fill="#1a4882"/>
<ellipse cx="948.75" cy="2105.75" rx="4.8" ry="5.3" fill="#1a4882"/>
<ellipse cx="956.25" cy="2145" rx="4.8" ry="5.3" fill="#1a4882"/>
<ellipse cx="967" cy="2145.5" rx="4.8" ry="5.3" fill="#1a4882"/>
<ellipse cx="970" cy="2151.25" rx="4.8" ry="5.3" fill="#1a4882"/>
<ellipse cx="988.75" cy="2148" rx="4.8" ry="5.3" fill="#1a4882"/>
<ellipse cx="1000" cy="2155.5" rx="4.8" ry="5.3" fill="#1a4882"/>
<ellipse cx="1012.5" cy="2145" rx="4.8" ry="5.3" fill="#1a4882"/>
<ellipse cx="1020.7" cy="2128" rx="4.8" ry="5.3" fill="#1a4882"/>
<ellipse cx="1032" cy="2109.5" rx="4.8" ry="5.3" fill="#1a4882"/>
<ellipse cx="1074.5" cy="2126.25" rx="4.8" ry="5.3" fill="#1a4882"/>
<ellipse cx="1113.1" cy="2136.75" rx="4.8" ry="5.3" fill="#1a4882"/>
<ellipse cx="1130" cy="2138" rx="4.8" ry="5.3" fill="#1a4882"/>
<ellipse cx="1159.5" cy="2118.75" rx="4.8" ry="5.3" fill="#1a4882"/>
<ellipse cx="1192.5" cy="2105" rx="4.8" ry="5.3" fill="#1a4882"/>
<ellipse cx="1220.75" cy="2093.25" rx="4.8" ry="5.3" fill="#1a4882"/>
<ellipse cx="1285.5" cy="2108" rx="4.8" ry="5.3" fill="#1a4882"/>
<ellipse cx="1379.25" cy="2067" rx="4.8" ry="5.3" fill="#1a4882"/>
<ellipse cx="1480.75" cy="2076.75" rx="4.8" ry="5.3" fill="#1a4882"/>
<ellipse cx="462" cy="2149.5" rx="8.9" ry="9.4" fill="#1a4882"/>
<ellipse cx="694.7" cy="2150.7" rx="8.9" ry="9.4" fill="#1a4882"/>
<path d="M1020.7,2117.25 L1031.45,2137.75 L1009.95,2137.75Z" fill="#1a4882"/>
<polyline fill="none" stroke="#d12f13" stroke-width="4.7" stroke-linejoin="round" stroke-linecap="round" points="328.25,2012 375.5,1992.5 402.5,1990 422.5,1992.5 466.25,2003.25 505,2020 558.25,2055.5 595,2090.5 631.25,2134.5 645,2172.5 662.5,2195.75 696.6,2202.5 708.75,2218.75 718.1,2214.7 727,2216 743.75,2202.5 760,2194.5 770.75,2174.25 778.75,2148 783,2131.25 807,2087 827.5,2091.75 844.25,2083.25 863,2097.5 873,2134.5 885.75,2175.5 915.75,2196.25 943,2205 965.75,2207 983.25,2198.25 999.5,2192 1008.75,2173.75 1022.5,2144.25 1041.75,2089.25 1063.5,2032.3 1094.5,2017.3 1132.5,2002 1165,2108 1220.5,2088"/>
<ellipse cx="328.25" cy="2012" rx="4.8" ry="5.3" fill="#d12f13"/>
<ellipse cx="375.5" cy="1992.5" rx="4.8" ry="5.3" fill="#d12f13"/>
<ellipse cx="402.5" cy="1990" rx="4.8" ry="5.3" fill="#d12f13"/>
<ellipse cx="422.5" cy="1992.5" rx="4.8" ry="5.3" fill="#d12f13"/>
<ellipse cx="466.25" cy="2003.25" rx="4.8" ry="5.3" fill="#d12f13"/>
<ellipse cx="505" cy="2020" rx="4.8" ry="5.3" fill="#d12f13"/>
<ellipse cx="558.25" cy="2055.5" rx="4.8" ry="5.3" fill="#d12f13"/>
<ellipse cx="595" cy="2090.5" rx="4.8" ry="5.3" fill="#d12f13"/>
<ellipse cx="631.25" cy="2134.5" rx="4.8" ry="5.3" fill="#d12f13"/>
<ellipse cx="645" cy="2172.5" rx="4.8" ry="5.3" fill="#d12f13"/>
<ellipse cx="662.5" cy="2195.75" rx="4.8" ry="5.3" fill="#d12f13"/>
<ellipse cx="696.6" cy="2202.5" rx="4.8" ry="5.3" fill="#d12f13"/>
<ellipse cx="708.75" cy="2218.75" rx="4.8" ry="5.3" fill="#d12f13"/>
<ellipse cx="718.1" cy="2214.7" rx="4.8" ry="5.3" fill="#d12f13"/>
<ellipse cx="727" cy="2216" rx="4.8" ry="5.3" fill="#d12f13"/>
<ellipse cx="743.75" cy="2202.5" rx="4.8" ry="5.3" fill="#d12f13"/>
<ellipse cx="760" cy="2194.5" rx="4.8" ry="5.3" fill="#d12f13"/>
<ellipse cx="770.75" cy="2174.25" rx="4.8" ry="5.3" fill="#d12f13"/>
<ellipse cx="778.75" cy="2148" rx="4.8" ry="5.3" fill="#d12f13"/>
<ellipse cx="783" cy="2131.25" rx="4.8" ry="5.3" fill="#d12f13"/>
<ellipse cx="807" cy="2087" rx="4.8" ry="5.3" fill="#d12f13"/>
<ellipse cx="827.5" cy="2091.75" rx="4.8" ry="5.3" fill="#d12f13"/>
<ellipse cx="844.25" cy="2083.25" rx="4.8" ry="5.3" fill="#d12f13"/>
<ellipse cx="863" cy="2097.5" rx="4.8" ry="5.3" fill="#d12f13"/>
<ellipse cx="873" cy="2134.5" rx="4.8" ry="5.3" fill="#d12f13"/>
<ellipse cx="885.75" cy="2175.5" rx="4.8" ry="5.3" fill="#d12f13"/>
<ellipse cx="915.75" cy="2196.25" rx="4.8" ry="5.3" fill="#d12f13"/>
<ellipse cx="943" cy="2205" rx="4.8" ry="5.3" fill="#d12f13"/>
<ellipse cx="965.75" cy="2207" rx="4.8" ry="5.3" fill="#d12f13"/>
<ellipse cx="983.25" cy="2198.25" rx="4.8" ry="5.3" fill="#d12f13"/>
<ellipse cx="999.5" cy="2192" rx="4.8" ry="5.3" fill="#d12f13"/>
<ellipse cx="1008.75" cy="2173.75" rx="4.8" ry="5.3" fill="#d12f13"/>
<ellipse cx="1022.5" cy="2144.25" rx="4.8" ry="5.3" fill="#d12f13"/>
<ellipse cx="1041.75" cy="2089.25" rx="4.8" ry="5.3" fill="#d12f13"/>
<ellipse cx="1063.5" cy="2032.3" rx="4.8" ry="5.3" fill="#d12f13"/>
<ellipse cx="1094.5" cy="2017.3" rx="4.8" ry="5.3" fill="#d12f13"/>
<ellipse cx="1132.5" cy="2002" rx="4.8" ry="5.3" fill="#d12f13"/>
<ellipse cx="1165" cy="2108" rx="4.8" ry="5.3" fill="#d12f13"/>
<ellipse cx="1220.5" cy="2088" rx="4.8" ry="5.3" fill="#d12f13"/>
<ellipse cx="885.75" cy="2175.5" rx="8.9" ry="9.4" fill="#d12f13"/>
<ellipse cx="1008.75" cy="2173.75" rx="8.9" ry="9.4" fill="#d12f13"/>
<path d="M1063.7,2022.05 L1074.45,2042.55 L1052.95,2042.55Z" fill="#d12f13"/>
<line x1="438.3" y1="2076.3" x2="1033" y2="2076.3" stroke="#000" stroke-width="9.6" stroke-dasharray="9 9.879"/>
<line x1="460.5" y1="2128" x2="460.5" y2="2149" stroke="#6e6e6e" stroke-width="2.1" stroke-dasharray="4.8 3.1"/>
<line x1="695.75" y1="2128" x2="695.75" y2="2151" stroke="#6e6e6e" stroke-width="2.1" stroke-dasharray="4.8 3.1"/>
<line x1="885.5" y1="2049" x2="885.5" y2="2175" stroke="#6e6e6e" stroke-width="2.1" stroke-dasharray="4.8 3.1"/>
<line x1="1008.75" y1="2049" x2="1008.75" y2="2174" stroke="#6e6e6e" stroke-width="2.1" stroke-dasharray="4.8 3.1"/>
<line x1="1068.75" y1="2036.1" x2="1622" y2="2036.1" stroke="#6e6e6e" stroke-width="2.0" stroke-dasharray="6.2 3.1"/>
<line x1="1028" y1="2128.2" x2="1622" y2="2128.2" stroke="#6e6e6e" stroke-width="2.0" stroke-dasharray="6.2 3.1"/>
<line x1="471.5" y1="2128" x2="685.5" y2="2128" stroke="#2f77bc" stroke-width="4.4" stroke-dasharray="11.3 5.2"/>
<path d="M460,2128 l12.5,-5.8 v11.6Z M697,2128 l-12.5,-5.8 v11.6Z" fill="#2f77bc"/>
<text x="563.75" y="2116.55" font-size="20" text-anchor="middle" font-weight="bold" fill="#2f77bc" textLength="70.84" lengthAdjust="spacingAndGlyphs">16,81 m</text>
<line x1="897" y1="2048.75" x2="1000.8" y2="2048.75" stroke="#d12f13" stroke-width="4.4" stroke-dasharray="11.3 5.2"/>
<path d="M885.5,2048.75 l12.5,-5.8 v11.6Z M1012.3,2048.75 l-12.5,-5.8 v11.6Z" fill="#d12f13"/>
<text x="956" y="2037.8" font-size="20" text-anchor="middle" font-weight="bold" fill="#d12f13" textLength="60.21" lengthAdjust="spacingAndGlyphs">8,49 m</text>
<line x1="1622.4" y1="2047.2" x2="1622.4" y2="2118.1" stroke="#111" stroke-width="4" stroke-dasharray="10 3.5"/>
<path d="M1622.4,2035.7 l-6.3,12.5 h12.6Z M1622.4,2129.6 l-6.3,-12.5 h12.6Z" fill="#111"/>
<text x="1685.5" y="2084.5" font-size="20" text-anchor="middle" font-weight="bold" fill="#000" textLength="75.9" lengthAdjust="spacingAndGlyphs">+ 1,38 m</text>
<text x="1056.9" y="1982.3" font-size="20" text-anchor="middle" font-weight="bold" fill="#d12f13" textLength="59.45" lengthAdjust="spacingAndGlyphs">887,77</text>
<text x="1057.9" y="2009.8" font-size="20" text-anchor="middle" font-weight="bold" fill="#d12f13" textLength="44.53" lengthAdjust="spacingAndGlyphs">a s. l.</text>
<text x="1061.6" y="2174.8" font-size="20" text-anchor="middle" font-weight="bold" fill="#2f77bc" textLength="59.71" lengthAdjust="spacingAndGlyphs">886,39</text>
<text x="1065" y="2201.05" font-size="20" text-anchor="middle" font-weight="bold" fill="#2f77bc" textLength="44.53" lengthAdjust="spacingAndGlyphs">a s. l.</text>
<text x="437.7" y="2061.25" font-size="33" text-anchor="start" font-weight="normal" fill="#000">-2018</text>
<line x1="707" y1="2151.25" x2="707" y2="2191.25" stroke="#16235e" stroke-width="2.4" stroke-dasharray="1.5 1.0"/>
<polyline fill="none" stroke="#1a4882" stroke-width="2.2" stroke-linejoin="miter" points="700.3,2178.15 707,2189.95 713.7,2178.15"/>
<line x1="727.5" y1="2131.25" x2="727.5" y2="2185" stroke="#16235e" stroke-width="2.4" stroke-dasharray="1.5 1.0"/>
<polyline fill="none" stroke="#1a4882" stroke-width="2.2" stroke-linejoin="miter" points="720.8,2171.9 727.5,2183.7 734.2,2171.9"/>
<line x1="913.25" y1="2103.75" x2="913.25" y2="2160" stroke="#16235e" stroke-width="2.4" stroke-dasharray="1.5 1.0"/>
<polyline fill="none" stroke="#1a4882" stroke-width="2.2" stroke-linejoin="miter" points="906.55,2146.9 913.25,2158.7 919.95,2146.9"/>
<line x1="968.25" y1="2155" x2="968.25" y2="2180.5" stroke="#16235e" stroke-width="2.4" stroke-dasharray="1.5 1.0"/>
<polyline fill="none" stroke="#1a4882" stroke-width="2.2" stroke-linejoin="miter" points="961.55,2167.4 968.25,2179.2 974.95,2167.4"/>
</g>
</svg></body></html>
